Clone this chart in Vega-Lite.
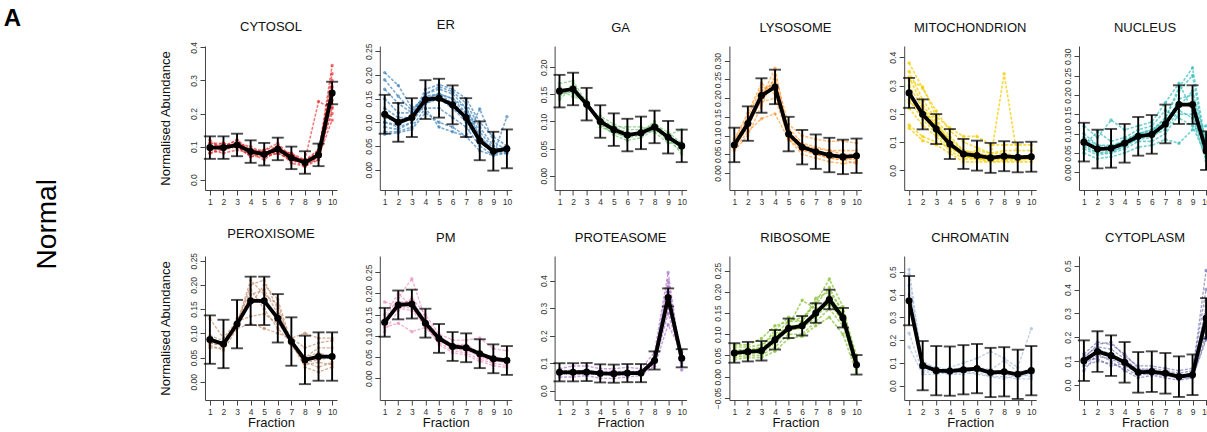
{
"$schema":"https://vega.github.io/schema/vega-lite/v6.json",
"padding":{"left":3,"top":7,"right":0,"bottom":0},
"background":"white",
"title":{"text":"A","orient":"left","angle":0,"anchor":"end","align":"right","baseline":"top","fontSize":24,"fontWeight":"bold","font":"Liberation Sans","color":"black","offset":-5,"dy":-12},
"config":{
 "view":{"stroke":null},
 "font":"Liberation Sans",
 "title":{"fontSize":13,"fontWeight":"normal","font":"Liberation Sans","color":"#111","offset":11},
 "axis":{"grid":false,"domainColor":"#444","tickColor":"#444","labelColor":"#333","labelFont":"Liberation Sans","labelFontSize":8.5,"tickSize":5,"domainWidth":1,"tickWidth":1,"titleFont":"Liberation Sans","titleFontWeight":"normal","titleFontSize":13,"titleColor":"#111","labelOverlap":false,"labelFlush":false,"labelBound":false},
 "axisY":{"labelAngle":270,"labelAlign":"center","labelBaseline":"bottom","labelPadding":1.5,"titlePadding":17},
 "axisX":{"labelPadding":2,"titlePadding":1}
},
"datasets":{
"prof":[
{"o":"CYT","p":1,"f":1,"v":0.09},{"o":"CYT","p":1,"f":2,"v":0.10},{"o":"CYT","p":1,"f":3,"v":0.11},{"o":"CYT","p":1,"f":4,"v":0.08},{"o":"CYT","p":1,"f":5,"v":0.07},{"o":"CYT","p":1,"f":6,"v":0.09},{"o":"CYT","p":1,"f":7,"v":0.06},{"o":"CYT","p":1,"f":8,"v":0.05},{"o":"CYT","p":1,"f":9,"v":0.07},{"o":"CYT","p":1,"f":10,"v":0.26},
{"o":"CYT","p":2,"f":1,"v":0.11},{"o":"CYT","p":2,"f":2,"v":0.10},{"o":"CYT","p":2,"f":3,"v":0.12},{"o":"CYT","p":2,"f":4,"v":0.09},{"o":"CYT","p":2,"f":5,"v":0.08},{"o":"CYT","p":2,"f":6,"v":0.10},{"o":"CYT","p":2,"f":7,"v":0.07},{"o":"CYT","p":2,"f":8,"v":0.05},{"o":"CYT","p":2,"f":9,"v":0.08},{"o":"CYT","p":2,"f":10,"v":0.30},
{"o":"CYT","p":3,"f":1,"v":0.08},{"o":"CYT","p":3,"f":2,"v":0.09},{"o":"CYT","p":3,"f":3,"v":0.10},{"o":"CYT","p":3,"f":4,"v":0.07},{"o":"CYT","p":3,"f":5,"v":0.07},{"o":"CYT","p":3,"f":6,"v":0.08},{"o":"CYT","p":3,"f":7,"v":0.06},{"o":"CYT","p":3,"f":8,"v":0.04},{"o":"CYT","p":3,"f":9,"v":0.06},{"o":"CYT","p":3,"f":10,"v":0.22},
{"o":"CYT","p":4,"f":1,"v":0.10},{"o":"CYT","p":4,"f":2,"v":0.11},{"o":"CYT","p":4,"f":3,"v":0.10},{"o":"CYT","p":4,"f":4,"v":0.09},{"o":"CYT","p":4,"f":5,"v":0.09},{"o":"CYT","p":4,"f":6,"v":0.10},{"o":"CYT","p":4,"f":7,"v":0.07},{"o":"CYT","p":4,"f":8,"v":0.06},{"o":"CYT","p":4,"f":9,"v":0.08},{"o":"CYT","p":4,"f":10,"v":0.345},
{"o":"CYT","p":5,"f":1,"v":0.12},{"o":"CYT","p":5,"f":2,"v":0.09},{"o":"CYT","p":5,"f":3,"v":0.11},{"o":"CYT","p":5,"f":4,"v":0.10},{"o":"CYT","p":5,"f":5,"v":0.08},{"o":"CYT","p":5,"f":6,"v":0.09},{"o":"CYT","p":5,"f":7,"v":0.08},{"o":"CYT","p":5,"f":8,"v":0.06},{"o":"CYT","p":5,"f":9,"v":0.09},{"o":"CYT","p":5,"f":10,"v":0.28},
{"o":"CYT","p":6,"f":1,"v":0.09},{"o":"CYT","p":6,"f":2,"v":0.08},{"o":"CYT","p":6,"f":3,"v":0.09},{"o":"CYT","p":6,"f":4,"v":0.08},{"o":"CYT","p":6,"f":5,"v":0.06},{"o":"CYT","p":6,"f":6,"v":0.09},{"o":"CYT","p":6,"f":7,"v":0.05},{"o":"CYT","p":6,"f":8,"v":0.04},{"o":"CYT","p":6,"f":9,"v":0.07},{"o":"CYT","p":6,"f":10,"v":0.18},
{"o":"CYT","p":7,"f":1,"v":0.10},{"o":"CYT","p":7,"f":2,"v":0.10},{"o":"CYT","p":7,"f":3,"v":0.12},{"o":"CYT","p":7,"f":4,"v":0.08},{"o":"CYT","p":7,"f":5,"v":0.09},{"o":"CYT","p":7,"f":6,"v":0.11},{"o":"CYT","p":7,"f":7,"v":0.07},{"o":"CYT","p":7,"f":8,"v":0.05},{"o":"CYT","p":7,"f":9,"v":0.08},{"o":"CYT","p":7,"f":10,"v":0.32},
{"o":"CYT","p":8,"f":1,"v":0.08},{"o":"CYT","p":8,"f":2,"v":0.10},{"o":"CYT","p":8,"f":3,"v":0.10},{"o":"CYT","p":8,"f":4,"v":0.09},{"o":"CYT","p":8,"f":5,"v":0.07},{"o":"CYT","p":8,"f":6,"v":0.08},{"o":"CYT","p":8,"f":7,"v":0.06},{"o":"CYT","p":8,"f":8,"v":0.05},{"o":"CYT","p":8,"f":9,"v":0.06},{"o":"CYT","p":8,"f":10,"v":0.24},
{"o":"CYT","p":9,"f":1,"v":0.10},{"o":"CYT","p":9,"f":2,"v":0.09},{"o":"CYT","p":9,"f":3,"v":0.11},{"o":"CYT","p":9,"f":4,"v":0.09},{"o":"CYT","p":9,"f":5,"v":0.08},{"o":"CYT","p":9,"f":6,"v":0.10},{"o":"CYT","p":9,"f":7,"v":0.07},{"o":"CYT","p":9,"f":8,"v":0.06},{"o":"CYT","p":9,"f":9,"v":0.236},{"o":"CYT","p":9,"f":10,"v":0.215},
{"o":"CYT","p":10,"f":1,"v":0.11},{"o":"CYT","p":10,"f":2,"v":0.11},{"o":"CYT","p":10,"f":3,"v":0.10},{"o":"CYT","p":10,"f":4,"v":0.07},{"o":"CYT","p":10,"f":5,"v":0.08},{"o":"CYT","p":10,"f":6,"v":0.09},{"o":"CYT","p":10,"f":7,"v":0.08},{"o":"CYT","p":10,"f":8,"v":0.05},{"o":"CYT","p":10,"f":9,"v":0.09},{"o":"CYT","p":10,"f":10,"v":0.20},
{"o":"ER","p":1,"f":1,"v":0.205},{"o":"ER","p":1,"f":2,"v":0.178},{"o":"ER","p":1,"f":3,"v":0.13},{"o":"ER","p":1,"f":4,"v":0.15},{"o":"ER","p":1,"f":5,"v":0.15},{"o":"ER","p":1,"f":6,"v":0.13},{"o":"ER","p":1,"f":7,"v":0.10},{"o":"ER","p":1,"f":8,"v":0.06},{"o":"ER","p":1,"f":9,"v":0.04},{"o":"ER","p":1,"f":10,"v":0.04},
{"o":"ER","p":2,"f":1,"v":0.19},{"o":"ER","p":2,"f":2,"v":0.155},{"o":"ER","p":2,"f":3,"v":0.125},{"o":"ER","p":2,"f":4,"v":0.155},{"o":"ER","p":2,"f":5,"v":0.16},{"o":"ER","p":2,"f":6,"v":0.14},{"o":"ER","p":2,"f":7,"v":0.11},{"o":"ER","p":2,"f":8,"v":0.06},{"o":"ER","p":2,"f":9,"v":0.035},{"o":"ER","p":2,"f":10,"v":0.035},
{"o":"ER","p":3,"f":1,"v":0.15},{"o":"ER","p":3,"f":2,"v":0.12},{"o":"ER","p":3,"f":3,"v":0.12},{"o":"ER","p":3,"f":4,"v":0.16},{"o":"ER","p":3,"f":5,"v":0.17},{"o":"ER","p":3,"f":6,"v":0.16},{"o":"ER","p":3,"f":7,"v":0.13},{"o":"ER","p":3,"f":8,"v":0.07},{"o":"ER","p":3,"f":9,"v":0.04},{"o":"ER","p":3,"f":10,"v":0.04},
{"o":"ER","p":4,"f":1,"v":0.13},{"o":"ER","p":4,"f":2,"v":0.11},{"o":"ER","p":4,"f":3,"v":0.11},{"o":"ER","p":4,"f":4,"v":0.15},{"o":"ER","p":4,"f":5,"v":0.16},{"o":"ER","p":4,"f":6,"v":0.15},{"o":"ER","p":4,"f":7,"v":0.12},{"o":"ER","p":4,"f":8,"v":0.065},{"o":"ER","p":4,"f":9,"v":0.035},{"o":"ER","p":4,"f":10,"v":0.04},
{"o":"ER","p":5,"f":1,"v":0.12},{"o":"ER","p":5,"f":2,"v":0.10},{"o":"ER","p":5,"f":3,"v":0.11},{"o":"ER","p":5,"f":4,"v":0.14},{"o":"ER","p":5,"f":5,"v":0.15},{"o":"ER","p":5,"f":6,"v":0.14},{"o":"ER","p":5,"f":7,"v":0.11},{"o":"ER","p":5,"f":8,"v":0.06},{"o":"ER","p":5,"f":9,"v":0.04},{"o":"ER","p":5,"f":10,"v":0.045},
{"o":"ER","p":6,"f":1,"v":0.10},{"o":"ER","p":6,"f":2,"v":0.09},{"o":"ER","p":6,"f":3,"v":0.10},{"o":"ER","p":6,"f":4,"v":0.14},{"o":"ER","p":6,"f":5,"v":0.15},{"o":"ER","p":6,"f":6,"v":0.14},{"o":"ER","p":6,"f":7,"v":0.12},{"o":"ER","p":6,"f":8,"v":0.07},{"o":"ER","p":6,"f":9,"v":0.04},{"o":"ER","p":6,"f":10,"v":0.05},
{"o":"ER","p":7,"f":1,"v":0.09},{"o":"ER","p":7,"f":2,"v":0.085},{"o":"ER","p":7,"f":3,"v":0.10},{"o":"ER","p":7,"f":4,"v":0.15},{"o":"ER","p":7,"f":5,"v":0.16},{"o":"ER","p":7,"f":6,"v":0.15},{"o":"ER","p":7,"f":7,"v":0.13},{"o":"ER","p":7,"f":8,"v":0.08},{"o":"ER","p":7,"f":9,"v":0.045},{"o":"ER","p":7,"f":10,"v":0.04},
{"o":"ER","p":8,"f":1,"v":0.11},{"o":"ER","p":8,"f":2,"v":0.10},{"o":"ER","p":8,"f":3,"v":0.11},{"o":"ER","p":8,"f":4,"v":0.16},{"o":"ER","p":8,"f":5,"v":0.175},{"o":"ER","p":8,"f":6,"v":0.165},{"o":"ER","p":8,"f":7,"v":0.14},{"o":"ER","p":8,"f":8,"v":0.09},{"o":"ER","p":8,"f":9,"v":0.05},{"o":"ER","p":8,"f":10,"v":0.035},
{"o":"ER","p":9,"f":1,"v":0.08},{"o":"ER","p":9,"f":2,"v":0.08},{"o":"ER","p":9,"f":3,"v":0.09},{"o":"ER","p":9,"f":4,"v":0.13},{"o":"ER","p":9,"f":5,"v":0.13},{"o":"ER","p":9,"f":6,"v":0.11},{"o":"ER","p":9,"f":7,"v":0.09},{"o":"ER","p":9,"f":8,"v":0.05},{"o":"ER","p":9,"f":9,"v":0.03},{"o":"ER","p":9,"f":10,"v":0.035},
{"o":"ER","p":10,"f":1,"v":0.075},{"o":"ER","p":10,"f":2,"v":0.078},{"o":"ER","p":10,"f":3,"v":0.085},{"o":"ER","p":10,"f":4,"v":0.12},{"o":"ER","p":10,"f":5,"v":0.10},{"o":"ER","p":10,"f":6,"v":0.09},{"o":"ER","p":10,"f":7,"v":0.07},{"o":"ER","p":10,"f":8,"v":0.04},{"o":"ER","p":10,"f":9,"v":0.03},{"o":"ER","p":10,"f":10,"v":0.112},
{"o":"ER","p":11,"f":1,"v":0.17},{"o":"ER","p":11,"f":2,"v":0.14},{"o":"ER","p":11,"f":3,"v":0.12},{"o":"ER","p":11,"f":4,"v":0.13},{"o":"ER","p":11,"f":5,"v":0.09},{"o":"ER","p":11,"f":6,"v":0.08},{"o":"ER","p":11,"f":7,"v":0.07},{"o":"ER","p":11,"f":8,"v":0.128},{"o":"ER","p":11,"f":9,"v":0.06},{"o":"ER","p":11,"f":10,"v":0.04},
{"o":"ER","p":12,"f":1,"v":0.10},{"o":"ER","p":12,"f":2,"v":0.095},{"o":"ER","p":12,"f":3,"v":0.11},{"o":"ER","p":12,"f":4,"v":0.17},{"o":"ER","p":12,"f":5,"v":0.18},{"o":"ER","p":12,"f":6,"v":0.17},{"o":"ER","p":12,"f":7,"v":0.15},{"o":"ER","p":12,"f":8,"v":0.10},{"o":"ER","p":12,"f":9,"v":0.07},{"o":"ER","p":12,"f":10,"v":0.05},
{"o":"GA","p":1,"f":1,"v":0.17},{"o":"GA","p":1,"f":2,"v":0.175},{"o":"GA","p":1,"f":3,"v":0.135},{"o":"GA","p":1,"f":4,"v":0.10},{"o":"GA","p":1,"f":5,"v":0.09},{"o":"GA","p":1,"f":6,"v":0.08},{"o":"GA","p":1,"f":7,"v":0.075},{"o":"GA","p":1,"f":8,"v":0.09},{"o":"GA","p":1,"f":9,"v":0.07},{"o":"GA","p":1,"f":10,"v":0.05},
{"o":"GA","p":2,"f":1,"v":0.15},{"o":"GA","p":2,"f":2,"v":0.155},{"o":"GA","p":2,"f":3,"v":0.13},{"o":"GA","p":2,"f":4,"v":0.095},{"o":"GA","p":2,"f":5,"v":0.08},{"o":"GA","p":2,"f":6,"v":0.07},{"o":"GA","p":2,"f":7,"v":0.075},{"o":"GA","p":2,"f":8,"v":0.085},{"o":"GA","p":2,"f":9,"v":0.065},{"o":"GA","p":2,"f":10,"v":0.045},
{"o":"GA","p":3,"f":1,"v":0.14},{"o":"GA","p":3,"f":2,"v":0.165},{"o":"GA","p":3,"f":3,"v":0.125},{"o":"GA","p":3,"f":4,"v":0.11},{"o":"GA","p":3,"f":5,"v":0.095},{"o":"GA","p":3,"f":6,"v":0.085},{"o":"GA","p":3,"f":7,"v":0.085},{"o":"GA","p":3,"f":8,"v":0.095},{"o":"GA","p":3,"f":9,"v":0.08},{"o":"GA","p":3,"f":10,"v":0.06},
{"o":"GA","p":4,"f":1,"v":0.16},{"o":"GA","p":4,"f":2,"v":0.145},{"o":"GA","p":4,"f":3,"v":0.14},{"o":"GA","p":4,"f":4,"v":0.09},{"o":"GA","p":4,"f":5,"v":0.08},{"o":"GA","p":4,"f":6,"v":0.07},{"o":"GA","p":4,"f":7,"v":0.08},{"o":"GA","p":4,"f":8,"v":0.09},{"o":"GA","p":4,"f":9,"v":0.075},{"o":"GA","p":4,"f":10,"v":0.085},
{"o":"GA","p":5,"f":1,"v":0.155},{"o":"GA","p":5,"f":2,"v":0.16},{"o":"GA","p":5,"f":3,"v":0.13},{"o":"GA","p":5,"f":4,"v":0.10},{"o":"GA","p":5,"f":5,"v":0.085},{"o":"GA","p":5,"f":6,"v":0.075},{"o":"GA","p":5,"f":7,"v":0.08},{"o":"GA","p":5,"f":8,"v":0.10},{"o":"GA","p":5,"f":9,"v":0.07},{"o":"GA","p":5,"f":10,"v":0.04},
{"o":"GA","p":6,"f":1,"v":0.145},{"o":"GA","p":6,"f":2,"v":0.17},{"o":"GA","p":6,"f":3,"v":0.128},{"o":"GA","p":6,"f":4,"v":0.105},{"o":"GA","p":6,"f":5,"v":0.09},{"o":"GA","p":6,"f":6,"v":0.09},{"o":"GA","p":6,"f":7,"v":0.09},{"o":"GA","p":6,"f":8,"v":0.08},{"o":"GA","p":6,"f":9,"v":0.06},{"o":"GA","p":6,"f":10,"v":0.06},
{"o":"GA","p":7,"f":1,"v":0.165},{"o":"GA","p":7,"f":2,"v":0.15},{"o":"GA","p":7,"f":3,"v":0.135},{"o":"GA","p":7,"f":4,"v":0.095},{"o":"GA","p":7,"f":5,"v":0.075},{"o":"GA","p":7,"f":6,"v":0.065},{"o":"GA","p":7,"f":7,"v":0.07},{"o":"GA","p":7,"f":8,"v":0.085},{"o":"GA","p":7,"f":9,"v":0.075},{"o":"GA","p":7,"f":10,"v":0.05},
{"o":"LYS","p":1,"f":1,"v":0.07},{"o":"LYS","p":1,"f":2,"v":0.12},{"o":"LYS","p":1,"f":3,"v":0.20},{"o":"LYS","p":1,"f":4,"v":0.28},{"o":"LYS","p":1,"f":5,"v":0.10},{"o":"LYS","p":1,"f":6,"v":0.07},{"o":"LYS","p":1,"f":7,"v":0.05},{"o":"LYS","p":1,"f":8,"v":0.04},{"o":"LYS","p":1,"f":9,"v":0.035},{"o":"LYS","p":1,"f":10,"v":0.04},
{"o":"LYS","p":2,"f":1,"v":0.08},{"o":"LYS","p":2,"f":2,"v":0.14},{"o":"LYS","p":2,"f":3,"v":0.22},{"o":"LYS","p":2,"f":4,"v":0.24},{"o":"LYS","p":2,"f":5,"v":0.11},{"o":"LYS","p":2,"f":6,"v":0.07},{"o":"LYS","p":2,"f":7,"v":0.06},{"o":"LYS","p":2,"f":8,"v":0.05},{"o":"LYS","p":2,"f":9,"v":0.045},{"o":"LYS","p":2,"f":10,"v":0.05},
{"o":"LYS","p":3,"f":1,"v":0.065},{"o":"LYS","p":3,"f":2,"v":0.11},{"o":"LYS","p":3,"f":3,"v":0.145},{"o":"LYS","p":3,"f":4,"v":0.158},{"o":"LYS","p":3,"f":5,"v":0.09},{"o":"LYS","p":3,"f":6,"v":0.06},{"o":"LYS","p":3,"f":7,"v":0.05},{"o":"LYS","p":3,"f":8,"v":0.045},{"o":"LYS","p":3,"f":9,"v":0.04},{"o":"LYS","p":3,"f":10,"v":0.035},
{"o":"LYS","p":4,"f":1,"v":0.09},{"o":"LYS","p":4,"f":2,"v":0.16},{"o":"LYS","p":4,"f":3,"v":0.24},{"o":"LYS","p":4,"f":4,"v":0.21},{"o":"LYS","p":4,"f":5,"v":0.12},{"o":"LYS","p":4,"f":6,"v":0.08},{"o":"LYS","p":4,"f":7,"v":0.07},{"o":"LYS","p":4,"f":8,"v":0.06},{"o":"LYS","p":4,"f":9,"v":0.05},{"o":"LYS","p":4,"f":10,"v":0.05},
{"o":"LYS","p":5,"f":1,"v":0.075},{"o":"LYS","p":5,"f":2,"v":0.13},{"o":"LYS","p":5,"f":3,"v":0.21},{"o":"LYS","p":5,"f":4,"v":0.25},{"o":"LYS","p":5,"f":5,"v":0.10},{"o":"LYS","p":5,"f":6,"v":0.065},{"o":"LYS","p":5,"f":7,"v":0.055},{"o":"LYS","p":5,"f":8,"v":0.045},{"o":"LYS","p":5,"f":9,"v":0.04},{"o":"LYS","p":5,"f":10,"v":0.045},
{"o":"LYS","p":6,"f":1,"v":0.06},{"o":"LYS","p":6,"f":2,"v":0.10},{"o":"LYS","p":6,"f":3,"v":0.18},{"o":"LYS","p":6,"f":4,"v":0.26},{"o":"LYS","p":6,"f":5,"v":0.13},{"o":"LYS","p":6,"f":6,"v":0.10},{"o":"LYS","p":6,"f":7,"v":0.09},{"o":"LYS","p":6,"f":8,"v":0.085},{"o":"LYS","p":6,"f":9,"v":0.085},{"o":"LYS","p":6,"f":10,"v":0.08},
{"o":"LYS","p":7,"f":1,"v":0.085},{"o":"LYS","p":7,"f":2,"v":0.15},{"o":"LYS","p":7,"f":3,"v":0.23},{"o":"LYS","p":7,"f":4,"v":0.22},{"o":"LYS","p":7,"f":5,"v":0.09},{"o":"LYS","p":7,"f":6,"v":0.05},{"o":"LYS","p":7,"f":7,"v":0.04},{"o":"LYS","p":7,"f":8,"v":0.03},{"o":"LYS","p":7,"f":9,"v":0.025},{"o":"LYS","p":7,"f":10,"v":0.03},
{"o":"LYS","p":8,"f":1,"v":0.07},{"o":"LYS","p":8,"f":2,"v":0.13},{"o":"LYS","p":8,"f":3,"v":0.20},{"o":"LYS","p":8,"f":4,"v":0.23},{"o":"LYS","p":8,"f":5,"v":0.11},{"o":"LYS","p":8,"f":6,"v":0.075},{"o":"LYS","p":8,"f":7,"v":0.065},{"o":"LYS","p":8,"f":8,"v":0.06},{"o":"LYS","p":8,"f":9,"v":0.06},{"o":"LYS","p":8,"f":10,"v":0.06},
{"o":"LYS","p":9,"f":1,"v":0.08},{"o":"LYS","p":9,"f":2,"v":0.14},{"o":"LYS","p":9,"f":3,"v":0.19},{"o":"LYS","p":9,"f":4,"v":0.20},{"o":"LYS","p":9,"f":5,"v":0.095},{"o":"LYS","p":9,"f":6,"v":0.065},{"o":"LYS","p":9,"f":7,"v":0.05},{"o":"LYS","p":9,"f":8,"v":0.04},{"o":"LYS","p":9,"f":9,"v":0.035},{"o":"LYS","p":9,"f":10,"v":0.025},
{"o":"MIT","p":1,"f":1,"v":0.38},{"o":"MIT","p":1,"f":2,"v":0.29},{"o":"MIT","p":1,"f":3,"v":0.21},{"o":"MIT","p":1,"f":4,"v":0.14},{"o":"MIT","p":1,"f":5,"v":0.10},{"o":"MIT","p":1,"f":6,"v":0.08},{"o":"MIT","p":1,"f":7,"v":0.06},{"o":"MIT","p":1,"f":8,"v":0.06},{"o":"MIT","p":1,"f":9,"v":0.05},{"o":"MIT","p":1,"f":10,"v":0.05},
{"o":"MIT","p":2,"f":1,"v":0.35},{"o":"MIT","p":2,"f":2,"v":0.25},{"o":"MIT","p":2,"f":3,"v":0.18},{"o":"MIT","p":2,"f":4,"v":0.12},{"o":"MIT","p":2,"f":5,"v":0.07},{"o":"MIT","p":2,"f":6,"v":0.06},{"o":"MIT","p":2,"f":7,"v":0.05},{"o":"MIT","p":2,"f":8,"v":0.05},{"o":"MIT","p":2,"f":9,"v":0.05},{"o":"MIT","p":2,"f":10,"v":0.05},
{"o":"MIT","p":3,"f":1,"v":0.30},{"o":"MIT","p":3,"f":2,"v":0.22},{"o":"MIT","p":3,"f":3,"v":0.16},{"o":"MIT","p":3,"f":4,"v":0.10},{"o":"MIT","p":3,"f":5,"v":0.06},{"o":"MIT","p":3,"f":6,"v":0.05},{"o":"MIT","p":3,"f":7,"v":0.04},{"o":"MIT","p":3,"f":8,"v":0.05},{"o":"MIT","p":3,"f":9,"v":0.045},{"o":"MIT","p":3,"f":10,"v":0.05},
{"o":"MIT","p":4,"f":1,"v":0.27},{"o":"MIT","p":4,"f":2,"v":0.20},{"o":"MIT","p":4,"f":3,"v":0.15},{"o":"MIT","p":4,"f":4,"v":0.09},{"o":"MIT","p":4,"f":5,"v":0.05},{"o":"MIT","p":4,"f":6,"v":0.05},{"o":"MIT","p":4,"f":7,"v":0.04},{"o":"MIT","p":4,"f":8,"v":0.04},{"o":"MIT","p":4,"f":9,"v":0.04},{"o":"MIT","p":4,"f":10,"v":0.04},
{"o":"MIT","p":5,"f":1,"v":0.25},{"o":"MIT","p":5,"f":2,"v":0.18},{"o":"MIT","p":5,"f":3,"v":0.13},{"o":"MIT","p":5,"f":4,"v":0.08},{"o":"MIT","p":5,"f":5,"v":0.05},{"o":"MIT","p":5,"f":6,"v":0.04},{"o":"MIT","p":5,"f":7,"v":0.035},{"o":"MIT","p":5,"f":8,"v":0.04},{"o":"MIT","p":5,"f":9,"v":0.04},{"o":"MIT","p":5,"f":10,"v":0.045},
{"o":"MIT","p":6,"f":1,"v":0.22},{"o":"MIT","p":6,"f":2,"v":0.16},{"o":"MIT","p":6,"f":3,"v":0.12},{"o":"MIT","p":6,"f":4,"v":0.07},{"o":"MIT","p":6,"f":5,"v":0.04},{"o":"MIT","p":6,"f":6,"v":0.04},{"o":"MIT","p":6,"f":7,"v":0.03},{"o":"MIT","p":6,"f":8,"v":0.035},{"o":"MIT","p":6,"f":9,"v":0.035},{"o":"MIT","p":6,"f":10,"v":0.04},
{"o":"MIT","p":7,"f":1,"v":0.15},{"o":"MIT","p":7,"f":2,"v":0.105},{"o":"MIT","p":7,"f":3,"v":0.09},{"o":"MIT","p":7,"f":4,"v":0.06},{"o":"MIT","p":7,"f":5,"v":0.03},{"o":"MIT","p":7,"f":6,"v":0.03},{"o":"MIT","p":7,"f":7,"v":0.03},{"o":"MIT","p":7,"f":8,"v":0.03},{"o":"MIT","p":7,"f":9,"v":0.03},{"o":"MIT","p":7,"f":10,"v":0.03},
{"o":"MIT","p":8,"f":1,"v":0.16},{"o":"MIT","p":8,"f":2,"v":0.12},{"o":"MIT","p":8,"f":3,"v":0.10},{"o":"MIT","p":8,"f":4,"v":0.08},{"o":"MIT","p":8,"f":5,"v":0.06},{"o":"MIT","p":8,"f":6,"v":0.07},{"o":"MIT","p":8,"f":7,"v":0.06},{"o":"MIT","p":8,"f":8,"v":0.07},{"o":"MIT","p":8,"f":9,"v":0.07},{"o":"MIT","p":8,"f":10,"v":0.07},
{"o":"MIT","p":9,"f":1,"v":0.32},{"o":"MIT","p":9,"f":2,"v":0.295},{"o":"MIT","p":9,"f":3,"v":0.19},{"o":"MIT","p":9,"f":4,"v":0.15},{"o":"MIT","p":9,"f":5,"v":0.12},{"o":"MIT","p":9,"f":6,"v":0.12},{"o":"MIT","p":9,"f":7,"v":0.09},{"o":"MIT","p":9,"f":8,"v":0.09},{"o":"MIT","p":9,"f":9,"v":0.09},{"o":"MIT","p":9,"f":10,"v":0.09},
{"o":"MIT","p":10,"f":1,"v":0.28},{"o":"MIT","p":10,"f":2,"v":0.19},{"o":"MIT","p":10,"f":3,"v":0.14},{"o":"MIT","p":10,"f":4,"v":0.09},{"o":"MIT","p":10,"f":5,"v":0.05},{"o":"MIT","p":10,"f":6,"v":0.04},{"o":"MIT","p":10,"f":7,"v":0.04},{"o":"MIT","p":10,"f":8,"v":0.342},{"o":"MIT","p":10,"f":9,"v":0.04},{"o":"MIT","p":10,"f":10,"v":0.05},
{"o":"MIT","p":11,"f":1,"v":0.24},{"o":"MIT","p":11,"f":2,"v":0.21},{"o":"MIT","p":11,"f":3,"v":0.16},{"o":"MIT","p":11,"f":4,"v":0.11},{"o":"MIT","p":11,"f":5,"v":0.07},{"o":"MIT","p":11,"f":6,"v":0.06},{"o":"MIT","p":11,"f":7,"v":0.05},{"o":"MIT","p":11,"f":8,"v":0.05},{"o":"MIT","p":11,"f":9,"v":0.05},{"o":"MIT","p":11,"f":10,"v":0.05},
{"o":"MIT","p":12,"f":1,"v":0.33},{"o":"MIT","p":12,"f":2,"v":0.23},{"o":"MIT","p":12,"f":3,"v":0.17},{"o":"MIT","p":12,"f":4,"v":0.10},{"o":"MIT","p":12,"f":5,"v":0.055},{"o":"MIT","p":12,"f":6,"v":0.045},{"o":"MIT","p":12,"f":7,"v":0.04},{"o":"MIT","p":12,"f":8,"v":0.045},{"o":"MIT","p":12,"f":9,"v":0.04},{"o":"MIT","p":12,"f":10,"v":0.04},
{"o":"NUC","p":1,"f":1,"v":0.08},{"o":"NUC","p":1,"f":2,"v":0.06},{"o":"NUC","p":1,"f":3,"v":0.06},{"o":"NUC","p":1,"f":4,"v":0.07},{"o":"NUC","p":1,"f":5,"v":0.09},{"o":"NUC","p":1,"f":6,"v":0.10},{"o":"NUC","p":1,"f":7,"v":0.13},{"o":"NUC","p":1,"f":8,"v":0.18},{"o":"NUC","p":1,"f":9,"v":0.17},{"o":"NUC","p":1,"f":10,"v":0.05},
{"o":"NUC","p":2,"f":1,"v":0.07},{"o":"NUC","p":2,"f":2,"v":0.05},{"o":"NUC","p":2,"f":3,"v":0.05},{"o":"NUC","p":2,"f":4,"v":0.07},{"o":"NUC","p":2,"f":5,"v":0.085},{"o":"NUC","p":2,"f":6,"v":0.09},{"o":"NUC","p":2,"f":7,"v":0.12},{"o":"NUC","p":2,"f":8,"v":0.19},{"o":"NUC","p":2,"f":9,"v":0.20},{"o":"NUC","p":2,"f":10,"v":0.06},
{"o":"NUC","p":3,"f":1,"v":0.10},{"o":"NUC","p":3,"f":2,"v":0.07},{"o":"NUC","p":3,"f":3,"v":0.07},{"o":"NUC","p":3,"f":4,"v":0.08},{"o":"NUC","p":3,"f":5,"v":0.10},{"o":"NUC","p":3,"f":6,"v":0.11},{"o":"NUC","p":3,"f":7,"v":0.14},{"o":"NUC","p":3,"f":8,"v":0.22},{"o":"NUC","p":3,"f":9,"v":0.27},{"o":"NUC","p":3,"f":10,"v":0.07},
{"o":"NUC","p":4,"f":1,"v":0.06},{"o":"NUC","p":4,"f":2,"v":0.045},{"o":"NUC","p":4,"f":3,"v":0.05},{"o":"NUC","p":4,"f":4,"v":0.06},{"o":"NUC","p":4,"f":5,"v":0.08},{"o":"NUC","p":4,"f":6,"v":0.08},{"o":"NUC","p":4,"f":7,"v":0.10},{"o":"NUC","p":4,"f":8,"v":0.15},{"o":"NUC","p":4,"f":9,"v":0.15},{"o":"NUC","p":4,"f":10,"v":0.04},
{"o":"NUC","p":5,"f":1,"v":0.12},{"o":"NUC","p":5,"f":2,"v":0.09},{"o":"NUC","p":5,"f":3,"v":0.135},{"o":"NUC","p":5,"f":4,"v":0.11},{"o":"NUC","p":5,"f":5,"v":0.12},{"o":"NUC","p":5,"f":6,"v":0.13},{"o":"NUC","p":5,"f":7,"v":0.18},{"o":"NUC","p":5,"f":8,"v":0.23},{"o":"NUC","p":5,"f":9,"v":0.16},{"o":"NUC","p":5,"f":10,"v":0.05},
{"o":"NUC","p":6,"f":1,"v":0.09},{"o":"NUC","p":6,"f":2,"v":0.07},{"o":"NUC","p":6,"f":3,"v":0.065},{"o":"NUC","p":6,"f":4,"v":0.085},{"o":"NUC","p":6,"f":5,"v":0.10},{"o":"NUC","p":6,"f":6,"v":0.11},{"o":"NUC","p":6,"f":7,"v":0.13},{"o":"NUC","p":6,"f":8,"v":0.17},{"o":"NUC","p":6,"f":9,"v":0.21},{"o":"NUC","p":6,"f":10,"v":0.08},
{"o":"NUC","p":7,"f":1,"v":0.05},{"o":"NUC","p":7,"f":2,"v":0.035},{"o":"NUC","p":7,"f":3,"v":0.04},{"o":"NUC","p":7,"f":4,"v":0.05},{"o":"NUC","p":7,"f":5,"v":0.065},{"o":"NUC","p":7,"f":6,"v":0.07},{"o":"NUC","p":7,"f":7,"v":0.085},{"o":"NUC","p":7,"f":8,"v":0.075},{"o":"NUC","p":7,"f":9,"v":0.11},{"o":"NUC","p":7,"f":10,"v":0.12},
{"o":"NUC","p":8,"f":1,"v":0.085},{"o":"NUC","p":8,"f":2,"v":0.065},{"o":"NUC","p":8,"f":3,"v":0.06},{"o":"NUC","p":8,"f":4,"v":0.08},{"o":"NUC","p":8,"f":5,"v":0.10},{"o":"NUC","p":8,"f":6,"v":0.105},{"o":"NUC","p":8,"f":7,"v":0.14},{"o":"NUC","p":8,"f":8,"v":0.21},{"o":"NUC","p":8,"f":9,"v":0.25},{"o":"NUC","p":8,"f":10,"v":0.06},
{"o":"NUC","p":9,"f":1,"v":0.065},{"o":"NUC","p":9,"f":2,"v":0.05},{"o":"NUC","p":9,"f":3,"v":0.055},{"o":"NUC","p":9,"f":4,"v":0.065},{"o":"NUC","p":9,"f":5,"v":0.09},{"o":"NUC","p":9,"f":6,"v":0.095},{"o":"NUC","p":9,"f":7,"v":0.11},{"o":"NUC","p":9,"f":8,"v":0.16},{"o":"NUC","p":9,"f":9,"v":0.14},{"o":"NUC","p":9,"f":10,"v":0.03},
{"o":"NUC","p":10,"f":1,"v":0.07},{"o":"NUC","p":10,"f":2,"v":0.105},{"o":"NUC","p":10,"f":3,"v":0.08},{"o":"NUC","p":10,"f":4,"v":0.09},{"o":"NUC","p":10,"f":5,"v":0.11},{"o":"NUC","p":10,"f":6,"v":0.12},{"o":"NUC","p":10,"f":7,"v":0.16},{"o":"NUC","p":10,"f":8,"v":0.14},{"o":"NUC","p":10,"f":9,"v":0.12},{"o":"NUC","p":10,"f":10,"v":0.04},
{"o":"PER","p":1,"f":1,"v":0.08},{"o":"PER","p":1,"f":2,"v":0.075},{"o":"PER","p":1,"f":3,"v":0.12},{"o":"PER","p":1,"f":4,"v":0.20},{"o":"PER","p":1,"f":5,"v":0.21},{"o":"PER","p":1,"f":6,"v":0.15},{"o":"PER","p":1,"f":7,"v":0.08},{"o":"PER","p":1,"f":8,"v":0.04},{"o":"PER","p":1,"f":9,"v":0.03},{"o":"PER","p":1,"f":10,"v":0.04},
{"o":"PER","p":2,"f":1,"v":0.07},{"o":"PER","p":2,"f":2,"v":0.07},{"o":"PER","p":2,"f":3,"v":0.115},{"o":"PER","p":2,"f":4,"v":0.18},{"o":"PER","p":2,"f":5,"v":0.19},{"o":"PER","p":2,"f":6,"v":0.14},{"o":"PER","p":2,"f":7,"v":0.085},{"o":"PER","p":2,"f":8,"v":0.05},{"o":"PER","p":2,"f":9,"v":0.06},{"o":"PER","p":2,"f":10,"v":0.05},
{"o":"PER","p":3,"f":1,"v":0.09},{"o":"PER","p":3,"f":2,"v":0.08},{"o":"PER","p":3,"f":3,"v":0.12},{"o":"PER","p":3,"f":4,"v":0.17},{"o":"PER","p":3,"f":5,"v":0.17},{"o":"PER","p":3,"f":6,"v":0.13},{"o":"PER","p":3,"f":7,"v":0.08},{"o":"PER","p":3,"f":8,"v":0.03},{"o":"PER","p":3,"f":9,"v":0.02},{"o":"PER","p":3,"f":10,"v":0.03},
{"o":"PER","p":4,"f":1,"v":0.13},{"o":"PER","p":4,"f":2,"v":0.09},{"o":"PER","p":4,"f":3,"v":0.125},{"o":"PER","p":4,"f":4,"v":0.135},{"o":"PER","p":4,"f":5,"v":0.14},{"o":"PER","p":4,"f":6,"v":0.12},{"o":"PER","p":4,"f":7,"v":0.09},{"o":"PER","p":4,"f":8,"v":0.07},{"o":"PER","p":4,"f":9,"v":0.08},{"o":"PER","p":4,"f":10,"v":0.085},
{"o":"PER","p":5,"f":1,"v":0.075},{"o":"PER","p":5,"f":2,"v":0.065},{"o":"PER","p":5,"f":3,"v":0.11},{"o":"PER","p":5,"f":4,"v":0.12},{"o":"PER","p":5,"f":5,"v":0.11},{"o":"PER","p":5,"f":6,"v":0.10},{"o":"PER","p":5,"f":7,"v":0.09},{"o":"PER","p":5,"f":8,"v":0.10},{"o":"PER","p":5,"f":9,"v":0.09},{"o":"PER","p":5,"f":10,"v":0.09},
{"o":"PER","p":6,"f":1,"v":0.085},{"o":"PER","p":6,"f":2,"v":0.08},{"o":"PER","p":6,"f":3,"v":0.12},{"o":"PER","p":6,"f":4,"v":0.21},{"o":"PER","p":6,"f":5,"v":0.18},{"o":"PER","p":6,"f":6,"v":0.16},{"o":"PER","p":6,"f":7,"v":0.075},{"o":"PER","p":6,"f":8,"v":0.04},{"o":"PER","p":6,"f":9,"v":0.045},{"o":"PER","p":6,"f":10,"v":0.05},
{"o":"PER","p":7,"f":1,"v":0.08},{"o":"PER","p":7,"f":2,"v":0.075},{"o":"PER","p":7,"f":3,"v":0.13},{"o":"PER","p":7,"f":4,"v":0.16},{"o":"PER","p":7,"f":5,"v":0.20},{"o":"PER","p":7,"f":6,"v":0.17},{"o":"PER","p":7,"f":7,"v":0.08},{"o":"PER","p":7,"f":8,"v":0.035},{"o":"PER","p":7,"f":9,"v":0.04},{"o":"PER","p":7,"f":10,"v":0.035},
{"o":"PER","p":8,"f":1,"v":0.095},{"o":"PER","p":8,"f":2,"v":0.085},{"o":"PER","p":8,"f":3,"v":0.12},{"o":"PER","p":8,"f":4,"v":0.19},{"o":"PER","p":8,"f":5,"v":0.15},{"o":"PER","p":8,"f":6,"v":0.11},{"o":"PER","p":8,"f":7,"v":0.08},{"o":"PER","p":8,"f":8,"v":0.05},{"o":"PER","p":8,"f":9,"v":0.07},{"o":"PER","p":8,"f":10,"v":0.07},
{"o":"PM","p":1,"f":1,"v":0.18},{"o":"PM","p":1,"f":2,"v":0.17},{"o":"PM","p":1,"f":3,"v":0.165},{"o":"PM","p":1,"f":4,"v":0.13},{"o":"PM","p":1,"f":5,"v":0.09},{"o":"PM","p":1,"f":6,"v":0.07},{"o":"PM","p":1,"f":7,"v":0.07},{"o":"PM","p":1,"f":8,"v":0.05},{"o":"PM","p":1,"f":9,"v":0.04},{"o":"PM","p":1,"f":10,"v":0.04},
{"o":"PM","p":2,"f":1,"v":0.12},{"o":"PM","p":2,"f":2,"v":0.13},{"o":"PM","p":2,"f":3,"v":0.11},{"o":"PM","p":2,"f":4,"v":0.12},{"o":"PM","p":2,"f":5,"v":0.09},{"o":"PM","p":2,"f":6,"v":0.08},{"o":"PM","p":2,"f":7,"v":0.08},{"o":"PM","p":2,"f":8,"v":0.06},{"o":"PM","p":2,"f":9,"v":0.05},{"o":"PM","p":2,"f":10,"v":0.045},
{"o":"PM","p":3,"f":1,"v":0.14},{"o":"PM","p":3,"f":2,"v":0.19},{"o":"PM","p":3,"f":3,"v":0.235},{"o":"PM","p":3,"f":4,"v":0.14},{"o":"PM","p":3,"f":5,"v":0.10},{"o":"PM","p":3,"f":6,"v":0.08},{"o":"PM","p":3,"f":7,"v":0.075},{"o":"PM","p":3,"f":8,"v":0.06},{"o":"PM","p":3,"f":9,"v":0.045},{"o":"PM","p":3,"f":10,"v":0.035},
{"o":"PM","p":4,"f":1,"v":0.13},{"o":"PM","p":4,"f":2,"v":0.18},{"o":"PM","p":4,"f":3,"v":0.18},{"o":"PM","p":4,"f":4,"v":0.13},{"o":"PM","p":4,"f":5,"v":0.095},{"o":"PM","p":4,"f":6,"v":0.07},{"o":"PM","p":4,"f":7,"v":0.065},{"o":"PM","p":4,"f":8,"v":0.055},{"o":"PM","p":4,"f":9,"v":0.04},{"o":"PM","p":4,"f":10,"v":0.04},
{"o":"PM","p":5,"f":1,"v":0.11},{"o":"PM","p":5,"f":2,"v":0.16},{"o":"PM","p":5,"f":3,"v":0.19},{"o":"PM","p":5,"f":4,"v":0.15},{"o":"PM","p":5,"f":5,"v":0.105},{"o":"PM","p":5,"f":6,"v":0.09},{"o":"PM","p":5,"f":7,"v":0.09},{"o":"PM","p":5,"f":8,"v":0.095},{"o":"PM","p":5,"f":9,"v":0.07},{"o":"PM","p":5,"f":10,"v":0.065},
{"o":"PM","p":6,"f":1,"v":0.15},{"o":"PM","p":6,"f":2,"v":0.20},{"o":"PM","p":6,"f":3,"v":0.17},{"o":"PM","p":6,"f":4,"v":0.12},{"o":"PM","p":6,"f":5,"v":0.085},{"o":"PM","p":6,"f":6,"v":0.065},{"o":"PM","p":6,"f":7,"v":0.06},{"o":"PM","p":6,"f":8,"v":0.045},{"o":"PM","p":6,"f":9,"v":0.035},{"o":"PM","p":6,"f":10,"v":0.03},
{"o":"PM","p":7,"f":1,"v":0.125},{"o":"PM","p":7,"f":2,"v":0.175},{"o":"PM","p":7,"f":3,"v":0.185},{"o":"PM","p":7,"f":4,"v":0.135},{"o":"PM","p":7,"f":5,"v":0.09},{"o":"PM","p":7,"f":6,"v":0.075},{"o":"PM","p":7,"f":7,"v":0.07},{"o":"PM","p":7,"f":8,"v":0.06},{"o":"PM","p":7,"f":9,"v":0.05},{"o":"PM","p":7,"f":10,"v":0.045},
{"o":"PM","p":8,"f":1,"v":0.135},{"o":"PM","p":8,"f":2,"v":0.165},{"o":"PM","p":8,"f":3,"v":0.16},{"o":"PM","p":8,"f":4,"v":0.125},{"o":"PM","p":8,"f":5,"v":0.08},{"o":"PM","p":8,"f":6,"v":0.06},{"o":"PM","p":8,"f":7,"v":0.055},{"o":"PM","p":8,"f":8,"v":0.04},{"o":"PM","p":8,"f":9,"v":0.03},{"o":"PM","p":8,"f":10,"v":0.025},
{"o":"PRO","p":1,"f":1,"v":0.06},{"o":"PRO","p":1,"f":2,"v":0.065},{"o":"PRO","p":1,"f":3,"v":0.07},{"o":"PRO","p":1,"f":4,"v":0.06},{"o":"PRO","p":1,"f":5,"v":0.055},{"o":"PRO","p":1,"f":6,"v":0.06},{"o":"PRO","p":1,"f":7,"v":0.06},{"o":"PRO","p":1,"f":8,"v":0.10},{"o":"PRO","p":1,"f":9,"v":0.33},{"o":"PRO","p":1,"f":10,"v":0.12},
{"o":"PRO","p":2,"f":1,"v":0.07},{"o":"PRO","p":2,"f":2,"v":0.07},{"o":"PRO","p":2,"f":3,"v":0.075},{"o":"PRO","p":2,"f":4,"v":0.065},{"o":"PRO","p":2,"f":5,"v":0.065},{"o":"PRO","p":2,"f":6,"v":0.07},{"o":"PRO","p":2,"f":7,"v":0.065},{"o":"PRO","p":2,"f":8,"v":0.12},{"o":"PRO","p":2,"f":9,"v":0.38},{"o":"PRO","p":2,"f":10,"v":0.11},
{"o":"PRO","p":3,"f":1,"v":0.05},{"o":"PRO","p":3,"f":2,"v":0.05},{"o":"PRO","p":3,"f":3,"v":0.055},{"o":"PRO","p":3,"f":4,"v":0.045},{"o":"PRO","p":3,"f":5,"v":0.045},{"o":"PRO","p":3,"f":6,"v":0.05},{"o":"PRO","p":3,"f":7,"v":0.055},{"o":"PRO","p":3,"f":8,"v":0.09},{"o":"PRO","p":3,"f":9,"v":0.24},{"o":"PRO","p":3,"f":10,"v":0.14},
{"o":"PRO","p":4,"f":1,"v":0.08},{"o":"PRO","p":4,"f":2,"v":0.09},{"o":"PRO","p":4,"f":3,"v":0.09},{"o":"PRO","p":4,"f":4,"v":0.08},{"o":"PRO","p":4,"f":5,"v":0.08},{"o":"PRO","p":4,"f":6,"v":0.085},{"o":"PRO","p":4,"f":7,"v":0.08},{"o":"PRO","p":4,"f":8,"v":0.14},{"o":"PRO","p":4,"f":9,"v":0.43},{"o":"PRO","p":4,"f":10,"v":0.09},
{"o":"PRO","p":5,"f":1,"v":0.065},{"o":"PRO","p":5,"f":2,"v":0.06},{"o":"PRO","p":5,"f":3,"v":0.06},{"o":"PRO","p":5,"f":4,"v":0.06},{"o":"PRO","p":5,"f":5,"v":0.06},{"o":"PRO","p":5,"f":6,"v":0.06},{"o":"PRO","p":5,"f":7,"v":0.065},{"o":"PRO","p":5,"f":8,"v":0.11},{"o":"PRO","p":5,"f":9,"v":0.30},{"o":"PRO","p":5,"f":10,"v":0.13},
{"o":"PRO","p":6,"f":1,"v":0.07},{"o":"PRO","p":6,"f":2,"v":0.075},{"o":"PRO","p":6,"f":3,"v":0.07},{"o":"PRO","p":6,"f":4,"v":0.065},{"o":"PRO","p":6,"f":5,"v":0.065},{"o":"PRO","p":6,"f":6,"v":0.065},{"o":"PRO","p":6,"f":7,"v":0.07},{"o":"PRO","p":6,"f":8,"v":0.115},{"o":"PRO","p":6,"f":9,"v":0.36},{"o":"PRO","p":6,"f":10,"v":0.075},
{"o":"PRO","p":7,"f":1,"v":0.06},{"o":"PRO","p":7,"f":2,"v":0.065},{"o":"PRO","p":7,"f":3,"v":0.065},{"o":"PRO","p":7,"f":4,"v":0.06},{"o":"PRO","p":7,"f":5,"v":0.055},{"o":"PRO","p":7,"f":6,"v":0.06},{"o":"PRO","p":7,"f":7,"v":0.06},{"o":"PRO","p":7,"f":8,"v":0.10},{"o":"PRO","p":7,"f":9,"v":0.28},{"o":"PRO","p":7,"f":10,"v":0.12},
{"o":"PRO","p":8,"f":1,"v":0.075},{"o":"PRO","p":8,"f":2,"v":0.07},{"o":"PRO","p":8,"f":3,"v":0.07},{"o":"PRO","p":8,"f":4,"v":0.07},{"o":"PRO","p":8,"f":5,"v":0.07},{"o":"PRO","p":8,"f":6,"v":0.07},{"o":"PRO","p":8,"f":7,"v":0.07},{"o":"PRO","p":8,"f":8,"v":0.12},{"o":"PRO","p":8,"f":9,"v":0.40},{"o":"PRO","p":8,"f":10,"v":0.10},
{"o":"RIB","p":1,"f":1,"v":0.055},{"o":"RIB","p":1,"f":2,"v":0.06},{"o":"RIB","p":1,"f":3,"v":0.06},{"o":"RIB","p":1,"f":4,"v":0.09},{"o":"RIB","p":1,"f":5,"v":0.12},{"o":"RIB","p":1,"f":6,"v":0.12},{"o":"RIB","p":1,"f":7,"v":0.15},{"o":"RIB","p":1,"f":8,"v":0.19},{"o":"RIB","p":1,"f":9,"v":0.14},{"o":"RIB","p":1,"f":10,"v":0.03},
{"o":"RIB","p":2,"f":1,"v":0.05},{"o":"RIB","p":2,"f":2,"v":0.055},{"o":"RIB","p":2,"f":3,"v":0.055},{"o":"RIB","p":2,"f":4,"v":0.08},{"o":"RIB","p":2,"f":5,"v":0.11},{"o":"RIB","p":2,"f":6,"v":0.115},{"o":"RIB","p":2,"f":7,"v":0.145},{"o":"RIB","p":2,"f":8,"v":0.18},{"o":"RIB","p":2,"f":9,"v":0.13},{"o":"RIB","p":2,"f":10,"v":0.025},
{"o":"RIB","p":3,"f":1,"v":0.07},{"o":"RIB","p":3,"f":2,"v":0.07},{"o":"RIB","p":3,"f":3,"v":0.075},{"o":"RIB","p":3,"f":4,"v":0.10},{"o":"RIB","p":3,"f":5,"v":0.13},{"o":"RIB","p":3,"f":6,"v":0.14},{"o":"RIB","p":3,"f":7,"v":0.17},{"o":"RIB","p":3,"f":8,"v":0.21},{"o":"RIB","p":3,"f":9,"v":0.15},{"o":"RIB","p":3,"f":10,"v":0.04},
{"o":"RIB","p":4,"f":1,"v":0.045},{"o":"RIB","p":4,"f":2,"v":0.05},{"o":"RIB","p":4,"f":3,"v":0.05},{"o":"RIB","p":4,"f":4,"v":0.07},{"o":"RIB","p":4,"f":5,"v":0.10},{"o":"RIB","p":4,"f":6,"v":0.10},{"o":"RIB","p":4,"f":7,"v":0.13},{"o":"RIB","p":4,"f":8,"v":0.16},{"o":"RIB","p":4,"f":9,"v":0.12},{"o":"RIB","p":4,"f":10,"v":0.02},
{"o":"RIB","p":5,"f":1,"v":0.06},{"o":"RIB","p":5,"f":2,"v":0.065},{"o":"RIB","p":5,"f":3,"v":0.065},{"o":"RIB","p":5,"f":4,"v":0.095},{"o":"RIB","p":5,"f":5,"v":0.12},{"o":"RIB","p":5,"f":6,"v":0.18},{"o":"RIB","p":5,"f":7,"v":0.16},{"o":"RIB","p":5,"f":8,"v":0.17},{"o":"RIB","p":5,"f":9,"v":0.14},{"o":"RIB","p":5,"f":10,"v":0.03},
{"o":"RIB","p":6,"f":1,"v":0.065},{"o":"RIB","p":6,"f":2,"v":0.06},{"o":"RIB","p":6,"f":3,"v":0.07},{"o":"RIB","p":6,"f":4,"v":0.11},{"o":"RIB","p":6,"f":5,"v":0.14},{"o":"RIB","p":6,"f":6,"v":0.13},{"o":"RIB","p":6,"f":7,"v":0.175},{"o":"RIB","p":6,"f":8,"v":0.23},{"o":"RIB","p":6,"f":9,"v":0.165},{"o":"RIB","p":6,"f":10,"v":0.035},
{"o":"RIB","p":7,"f":1,"v":0.04},{"o":"RIB","p":7,"f":2,"v":0.045},{"o":"RIB","p":7,"f":3,"v":0.045},{"o":"RIB","p":7,"f":4,"v":0.06},{"o":"RIB","p":7,"f":5,"v":0.09},{"o":"RIB","p":7,"f":6,"v":0.095},{"o":"RIB","p":7,"f":7,"v":0.12},{"o":"RIB","p":7,"f":8,"v":0.14},{"o":"RIB","p":7,"f":9,"v":0.10},{"o":"RIB","p":7,"f":10,"v":0.01},
{"o":"RIB","p":8,"f":1,"v":0.075},{"o":"RIB","p":8,"f":2,"v":0.075},{"o":"RIB","p":8,"f":3,"v":0.09},{"o":"RIB","p":8,"f":4,"v":0.12},{"o":"RIB","p":8,"f":5,"v":0.13},{"o":"RIB","p":8,"f":6,"v":0.13},{"o":"RIB","p":8,"f":7,"v":0.185},{"o":"RIB","p":8,"f":8,"v":0.20},{"o":"RIB","p":8,"f":9,"v":0.155},{"o":"RIB","p":8,"f":10,"v":0.05},
{"o":"RIB","p":9,"f":1,"v":0.05},{"o":"RIB","p":9,"f":2,"v":0.055},{"o":"RIB","p":9,"f":3,"v":0.06},{"o":"RIB","p":9,"f":4,"v":0.085},{"o":"RIB","p":9,"f":5,"v":0.11},{"o":"RIB","p":9,"f":6,"v":0.115},{"o":"RIB","p":9,"f":7,"v":0.14},{"o":"RIB","p":9,"f":8,"v":0.175},{"o":"RIB","p":9,"f":9,"v":0.13},{"o":"RIB","p":9,"f":10,"v":0.02},
{"o":"RIB","p":10,"f":1,"v":0.06},{"o":"RIB","p":10,"f":2,"v":0.06},{"o":"RIB","p":10,"f":3,"v":0.065},{"o":"RIB","p":10,"f":4,"v":0.09},{"o":"RIB","p":10,"f":5,"v":0.115},{"o":"RIB","p":10,"f":6,"v":0.125},{"o":"RIB","p":10,"f":7,"v":0.15},{"o":"RIB","p":10,"f":8,"v":0.19},{"o":"RIB","p":10,"f":9,"v":0.145},{"o":"RIB","p":10,"f":10,"v":0.03},
{"o":"CHR","p":1,"f":1,"v":0.51},{"o":"CHR","p":1,"f":2,"v":0.09},{"o":"CHR","p":1,"f":3,"v":0.06},{"o":"CHR","p":1,"f":4,"v":0.05},{"o":"CHR","p":1,"f":5,"v":0.06},{"o":"CHR","p":1,"f":6,"v":0.07},{"o":"CHR","p":1,"f":7,"v":0.05},{"o":"CHR","p":1,"f":8,"v":0.05},{"o":"CHR","p":1,"f":9,"v":0.04},{"o":"CHR","p":1,"f":10,"v":0.05},
{"o":"CHR","p":2,"f":1,"v":0.49},{"o":"CHR","p":2,"f":2,"v":0.08},{"o":"CHR","p":2,"f":3,"v":0.07},{"o":"CHR","p":2,"f":4,"v":0.06},{"o":"CHR","p":2,"f":5,"v":0.07},{"o":"CHR","p":2,"f":6,"v":0.08},{"o":"CHR","p":2,"f":7,"v":0.06},{"o":"CHR","p":2,"f":8,"v":0.06},{"o":"CHR","p":2,"f":9,"v":0.05},{"o":"CHR","p":2,"f":10,"v":0.06},
{"o":"CHR","p":3,"f":1,"v":0.44},{"o":"CHR","p":3,"f":2,"v":0.10},{"o":"CHR","p":3,"f":3,"v":0.08},{"o":"CHR","p":3,"f":4,"v":0.07},{"o":"CHR","p":3,"f":5,"v":0.06},{"o":"CHR","p":3,"f":6,"v":0.05},{"o":"CHR","p":3,"f":7,"v":0.04},{"o":"CHR","p":3,"f":8,"v":0.04},{"o":"CHR","p":3,"f":9,"v":0.03},{"o":"CHR","p":3,"f":10,"v":0.03},
{"o":"CHR","p":4,"f":1,"v":0.23},{"o":"CHR","p":4,"f":2,"v":0.06},{"o":"CHR","p":4,"f":3,"v":0.06},{"o":"CHR","p":4,"f":4,"v":0.08},{"o":"CHR","p":4,"f":5,"v":0.10},{"o":"CHR","p":4,"f":6,"v":0.12},{"o":"CHR","p":4,"f":7,"v":0.15},{"o":"CHR","p":4,"f":8,"v":0.12},{"o":"CHR","p":4,"f":9,"v":0.08},{"o":"CHR","p":4,"f":10,"v":0.25},
{"o":"CHR","p":5,"f":1,"v":0.17},{"o":"CHR","p":5,"f":2,"v":0.05},{"o":"CHR","p":5,"f":3,"v":0.05},{"o":"CHR","p":5,"f":4,"v":0.06},{"o":"CHR","p":5,"f":5,"v":0.07},{"o":"CHR","p":5,"f":6,"v":0.08},{"o":"CHR","p":5,"f":7,"v":0.07},{"o":"CHR","p":5,"f":8,"v":0.11},{"o":"CHR","p":5,"f":9,"v":0.06},{"o":"CHR","p":5,"f":10,"v":0.07},
{"o":"CHR","p":6,"f":1,"v":0.40},{"o":"CHR","p":6,"f":2,"v":0.07},{"o":"CHR","p":6,"f":3,"v":0.065},{"o":"CHR","p":6,"f":4,"v":0.05},{"o":"CHR","p":6,"f":5,"v":0.05},{"o":"CHR","p":6,"f":6,"v":0.06},{"o":"CHR","p":6,"f":7,"v":0.04},{"o":"CHR","p":6,"f":8,"v":0.03},{"o":"CHR","p":6,"f":9,"v":0.05},{"o":"CHR","p":6,"f":10,"v":0.04},
{"o":"CHR","p":7,"f":1,"v":0.37},{"o":"CHR","p":7,"f":2,"v":0.11},{"o":"CHR","p":7,"f":3,"v":0.07},{"o":"CHR","p":7,"f":4,"v":0.07},{"o":"CHR","p":7,"f":5,"v":0.08},{"o":"CHR","p":7,"f":6,"v":0.07},{"o":"CHR","p":7,"f":7,"v":0.05},{"o":"CHR","p":7,"f":8,"v":0.06},{"o":"CHR","p":7,"f":9,"v":0.04},{"o":"CHR","p":7,"f":10,"v":0.06},
{"o":"CYP","p":1,"f":1,"v":0.10},{"o":"CYP","p":1,"f":2,"v":0.14},{"o":"CYP","p":1,"f":3,"v":0.12},{"o":"CYP","p":1,"f":4,"v":0.09},{"o":"CYP","p":1,"f":5,"v":0.05},{"o":"CYP","p":1,"f":6,"v":0.05},{"o":"CYP","p":1,"f":7,"v":0.05},{"o":"CYP","p":1,"f":8,"v":0.03},{"o":"CYP","p":1,"f":9,"v":0.04},{"o":"CYP","p":1,"f":10,"v":0.25},
{"o":"CYP","p":2,"f":1,"v":0.13},{"o":"CYP","p":2,"f":2,"v":0.18},{"o":"CYP","p":2,"f":3,"v":0.17},{"o":"CYP","p":2,"f":4,"v":0.13},{"o":"CYP","p":2,"f":5,"v":0.07},{"o":"CYP","p":2,"f":6,"v":0.06},{"o":"CYP","p":2,"f":7,"v":0.05},{"o":"CYP","p":2,"f":8,"v":0.04},{"o":"CYP","p":2,"f":9,"v":0.05},{"o":"CYP","p":2,"f":10,"v":0.48},
{"o":"CYP","p":3,"f":1,"v":0.08},{"o":"CYP","p":3,"f":2,"v":0.10},{"o":"CYP","p":3,"f":3,"v":0.09},{"o":"CYP","p":3,"f":4,"v":0.07},{"o":"CYP","p":3,"f":5,"v":0.04},{"o":"CYP","p":3,"f":6,"v":0.05},{"o":"CYP","p":3,"f":7,"v":0.04},{"o":"CYP","p":3,"f":8,"v":0.03},{"o":"CYP","p":3,"f":9,"v":0.03},{"o":"CYP","p":3,"f":10,"v":0.20},
{"o":"CYP","p":4,"f":1,"v":0.12},{"o":"CYP","p":4,"f":2,"v":0.16},{"o":"CYP","p":4,"f":3,"v":0.15},{"o":"CYP","p":4,"f":4,"v":0.11},{"o":"CYP","p":4,"f":5,"v":0.06},{"o":"CYP","p":4,"f":6,"v":0.07},{"o":"CYP","p":4,"f":7,"v":0.06},{"o":"CYP","p":4,"f":8,"v":0.05},{"o":"CYP","p":4,"f":9,"v":0.06},{"o":"CYP","p":4,"f":10,"v":0.40},
{"o":"CYP","p":5,"f":1,"v":0.09},{"o":"CYP","p":5,"f":2,"v":0.12},{"o":"CYP","p":5,"f":3,"v":0.11},{"o":"CYP","p":5,"f":4,"v":0.08},{"o":"CYP","p":5,"f":5,"v":0.05},{"o":"CYP","p":5,"f":6,"v":0.045},{"o":"CYP","p":5,"f":7,"v":0.04},{"o":"CYP","p":5,"f":8,"v":0.03},{"o":"CYP","p":5,"f":9,"v":0.04},{"o":"CYP","p":5,"f":10,"v":0.22},
{"o":"CYP","p":6,"f":1,"v":0.06},{"o":"CYP","p":6,"f":2,"v":0.13},{"o":"CYP","p":6,"f":3,"v":0.10},{"o":"CYP","p":6,"f":4,"v":0.06},{"o":"CYP","p":6,"f":5,"v":0.03},{"o":"CYP","p":6,"f":6,"v":0.04},{"o":"CYP","p":6,"f":7,"v":0.03},{"o":"CYP","p":6,"f":8,"v":0.02},{"o":"CYP","p":6,"f":9,"v":0.03},{"o":"CYP","p":6,"f":10,"v":0.19},
{"o":"CYP","p":7,"f":1,"v":0.11},{"o":"CYP","p":7,"f":2,"v":0.17},{"o":"CYP","p":7,"f":3,"v":0.18},{"o":"CYP","p":7,"f":4,"v":0.12},{"o":"CYP","p":7,"f":5,"v":0.08},{"o":"CYP","p":7,"f":6,"v":0.08},{"o":"CYP","p":7,"f":7,"v":0.07},{"o":"CYP","p":7,"f":8,"v":0.06},{"o":"CYP","p":7,"f":9,"v":0.07},{"o":"CYP","p":7,"f":10,"v":0.30},
{"o":"CYP","p":8,"f":1,"v":0.105},{"o":"CYP","p":8,"f":2,"v":0.11},{"o":"CYP","p":8,"f":3,"v":0.08},{"o":"CYP","p":8,"f":4,"v":0.09},{"o":"CYP","p":8,"f":5,"v":0.05},{"o":"CYP","p":8,"f":6,"v":0.05},{"o":"CYP","p":8,"f":7,"v":0.045},{"o":"CYP","p":8,"f":8,"v":0.035},{"o":"CYP","p":8,"f":9,"v":0.04},{"o":"CYP","p":8,"f":10,"v":0.26},
{"o":"CYP","p":9,"f":1,"v":0.09},{"o":"CYP","p":9,"f":2,"v":0.15},{"o":"CYP","p":9,"f":3,"v":0.13},{"o":"CYP","p":9,"f":4,"v":0.10},{"o":"CYP","p":9,"f":5,"v":0.06},{"o":"CYP","p":9,"f":6,"v":0.06},{"o":"CYP","p":9,"f":7,"v":0.05},{"o":"CYP","p":9,"f":8,"v":0.04},{"o":"CYP","p":9,"f":9,"v":0.045},{"o":"CYP","p":9,"f":10,"v":0.33}
],
"mean":[
{"o":"CYT","f":1,"m":0.097,"l":0.063,"h":0.131},{"o":"CYT","f":2,"m":0.097,"l":0.063,"h":0.131},{"o":"CYT","f":3,"m":0.105,"l":0.071,"h":0.139},{"o":"CYT","f":4,"m":0.085,"l":0.051,"h":0.119},{"o":"CYT","f":5,"m":0.077,"l":0.043,"h":0.111},{"o":"CYT","f":6,"m":0.093,"l":0.059,"h":0.127},{"o":"CYT","f":7,"m":0.066,"l":0.032,"h":0.100},{"o":"CYT","f":8,"m":0.052,"l":0.018,"h":0.086},{"o":"CYT","f":9,"m":0.075,"l":0.041,"h":0.109},{"o":"CYT","f":10,"m":0.262,"l":0.228,"h":0.296},
{"o":"ER","f":1,"m":0.117,"l":0.076,"h":0.158},{"o":"ER","f":2,"m":0.100,"l":0.059,"h":0.141},{"o":"ER","f":3,"m":0.110,"l":0.069,"h":0.151},{"o":"ER","f":4,"m":0.148,"l":0.107,"h":0.189},{"o":"ER","f":5,"m":0.151,"l":0.110,"h":0.192},{"o":"ER","f":6,"m":0.137,"l":0.096,"h":0.178},{"o":"ER","f":7,"m":0.110,"l":0.069,"h":0.151},{"o":"ER","f":8,"m":0.061,"l":0.020,"h":0.102},{"o":"ER","f":9,"m":0.039,"l":-0.002,"h":0.080},{"o":"ER","f":10,"m":0.044,"l":0.003,"h":0.085},
{"o":"GA","f":1,"m":0.156,"l":0.126,"h":0.186},{"o":"GA","f":2,"m":0.160,"l":0.130,"h":0.190},{"o":"GA","f":3,"m":0.132,"l":0.102,"h":0.162},{"o":"GA","f":4,"m":0.100,"l":0.070,"h":0.130},{"o":"GA","f":5,"m":0.085,"l":0.055,"h":0.115},{"o":"GA","f":6,"m":0.075,"l":0.045,"h":0.105},{"o":"GA","f":7,"m":0.079,"l":0.049,"h":0.109},{"o":"GA","f":8,"m":0.090,"l":0.060,"h":0.120},{"o":"GA","f":9,"m":0.071,"l":0.041,"h":0.101},{"o":"GA","f":10,"m":0.055,"l":0.025,"h":0.085},
{"o":"LYS","f":1,"m":0.075,"l":0.029,"h":0.121},{"o":"LYS","f":2,"m":0.132,"l":0.086,"h":0.178},{"o":"LYS","f":3,"m":0.207,"l":0.161,"h":0.253},{"o":"LYS","f":4,"m":0.230,"l":0.184,"h":0.276},{"o":"LYS","f":5,"m":0.104,"l":0.058,"h":0.150},{"o":"LYS","f":6,"m":0.069,"l":0.023,"h":0.115},{"o":"LYS","f":7,"m":0.057,"l":0.011,"h":0.103},{"o":"LYS","f":8,"m":0.048,"l":0.002,"h":0.094},{"o":"LYS","f":9,"m":0.043,"l":-0.003,"h":0.089},{"o":"LYS","f":10,"m":0.046,"l":0.000,"h":0.092},
{"o":"MIT","f":1,"m":0.274,"l":0.221,"h":0.327},{"o":"MIT","f":2,"m":0.198,"l":0.145,"h":0.251},{"o":"MIT","f":3,"m":0.146,"l":0.093,"h":0.199},{"o":"MIT","f":4,"m":0.093,"l":0.040,"h":0.146},{"o":"MIT","f":5,"m":0.058,"l":0.005,"h":0.111},{"o":"MIT","f":6,"m":0.052,"l":-0.001,"h":0.105},{"o":"MIT","f":7,"m":0.044,"l":-0.009,"h":0.097},{"o":"MIT","f":8,"m":0.050,"l":-0.003,"h":0.103},{"o":"MIT","f":9,"m":0.046,"l":-0.007,"h":0.099},{"o":"MIT","f":10,"m":0.048,"l":-0.005,"h":0.101},
{"o":"NUC","f":1,"m":0.078,"l":0.028,"h":0.128},{"o":"NUC","f":2,"m":0.060,"l":0.010,"h":0.110},{"o":"NUC","f":3,"m":0.062,"l":0.012,"h":0.112},{"o":"NUC","f":4,"m":0.075,"l":0.025,"h":0.125},{"o":"NUC","f":5,"m":0.093,"l":0.043,"h":0.143},{"o":"NUC","f":6,"m":0.098,"l":0.048,"h":0.148},{"o":"NUC","f":7,"m":0.125,"l":0.075,"h":0.175},{"o":"NUC","f":8,"m":0.175,"l":0.125,"h":0.225},{"o":"NUC","f":9,"m":0.175,"l":0.125,"h":0.225},{"o":"NUC","f":10,"m":0.056,"l":0.006,"h":0.106},
{"o":"PER","f":1,"m":0.087,"l":0.037,"h":0.137},{"o":"PER","f":2,"m":0.078,"l":0.028,"h":0.128},{"o":"PER","f":3,"m":0.119,"l":0.069,"h":0.169},{"o":"PER","f":4,"m":0.167,"l":0.117,"h":0.217},{"o":"PER","f":5,"m":0.167,"l":0.117,"h":0.217},{"o":"PER","f":6,"m":0.131,"l":0.081,"h":0.181},{"o":"PER","f":7,"m":0.083,"l":0.033,"h":0.133},{"o":"PER","f":8,"m":0.045,"l":-0.005,"h":0.095},{"o":"PER","f":9,"m":0.052,"l":0.002,"h":0.102},{"o":"PER","f":10,"m":0.052,"l":0.002,"h":0.102},
{"o":"PM","f":1,"m":0.132,"l":0.098,"h":0.166},{"o":"PM","f":2,"m":0.173,"l":0.139,"h":0.207},{"o":"PM","f":3,"m":0.175,"l":0.141,"h":0.209},{"o":"PM","f":4,"m":0.130,"l":0.096,"h":0.164},{"o":"PM","f":5,"m":0.094,"l":0.060,"h":0.128},{"o":"PM","f":6,"m":0.075,"l":0.041,"h":0.109},{"o":"PM","f":7,"m":0.072,"l":0.038,"h":0.106},{"o":"PM","f":8,"m":0.058,"l":0.024,"h":0.092},{"o":"PM","f":9,"m":0.046,"l":0.012,"h":0.080},{"o":"PM","f":10,"m":0.042,"l":0.008,"h":0.076},
{"o":"PRO","f":1,"m":0.067,"l":0.034,"h":0.100},{"o":"PRO","f":2,"m":0.067,"l":0.034,"h":0.100},{"o":"PRO","f":3,"m":0.068,"l":0.035,"h":0.101},{"o":"PRO","f":4,"m":0.063,"l":0.030,"h":0.096},{"o":"PRO","f":5,"m":0.062,"l":0.029,"h":0.095},{"o":"PRO","f":6,"m":0.064,"l":0.031,"h":0.097},{"o":"PRO","f":7,"m":0.064,"l":0.031,"h":0.097},{"o":"PRO","f":8,"m":0.110,"l":0.077,"h":0.143},{"o":"PRO","f":9,"m":0.339,"l":0.306,"h":0.372},{"o":"PRO","f":10,"m":0.118,"l":0.085,"h":0.151},
{"o":"RIB","f":1,"m":0.056,"l":0.033,"h":0.079},{"o":"RIB","f":2,"m":0.059,"l":0.036,"h":0.082},{"o":"RIB","f":3,"m":0.061,"l":0.038,"h":0.084},{"o":"RIB","f":4,"m":0.087,"l":0.064,"h":0.110},{"o":"RIB","f":5,"m":0.114,"l":0.091,"h":0.137},{"o":"RIB","f":6,"m":0.120,"l":0.097,"h":0.143},{"o":"RIB","f":7,"m":0.150,"l":0.127,"h":0.173},{"o":"RIB","f":8,"m":0.182,"l":0.159,"h":0.205},{"o":"RIB","f":9,"m":0.139,"l":0.116,"h":0.162},{"o":"RIB","f":10,"m":0.028,"l":0.005,"h":0.051},
{"o":"CHR","f":1,"m":0.373,"l":0.265,"h":0.481},{"o":"CHR","f":2,"m":0.088,"l":-0.020,"h":0.196},{"o":"CHR","f":3,"m":0.066,"l":-0.042,"h":0.174},{"o":"CHR","f":4,"m":0.064,"l":-0.044,"h":0.172},{"o":"CHR","f":5,"m":0.070,"l":-0.038,"h":0.178},{"o":"CHR","f":6,"m":0.075,"l":-0.033,"h":0.183},{"o":"CHR","f":7,"m":0.058,"l":-0.050,"h":0.166},{"o":"CHR","f":8,"m":0.061,"l":-0.047,"h":0.169},{"o":"CHR","f":9,"m":0.050,"l":-0.058,"h":0.158},{"o":"CHR","f":10,"m":0.066,"l":-0.042,"h":0.174},
{"o":"CYP","f":1,"m":0.102,"l":0.017,"h":0.187},{"o":"CYP","f":2,"m":0.140,"l":0.055,"h":0.225},{"o":"CYP","f":3,"m":0.123,"l":0.038,"h":0.208},{"o":"CYP","f":4,"m":0.095,"l":0.010,"h":0.180},{"o":"CYP","f":5,"m":0.053,"l":-0.032,"h":0.138},{"o":"CYP","f":6,"m":0.056,"l":-0.029,"h":0.141},{"o":"CYP","f":7,"m":0.049,"l":-0.036,"h":0.134},{"o":"CYP","f":8,"m":0.035,"l":-0.050,"h":0.120},{"o":"CYP","f":9,"m":0.043,"l":-0.042,"h":0.128},{"o":"CYP","f":10,"m":0.279,"l":0.194,"h":0.364}
]
},
"vconcat":[{
"title":{"text":"Normal","orient":"left","anchor":"middle","fontSize":28,"fontWeight":"normal","font":"Liberation Sans","color":"black","offset":98},
"columns":6,"bounds":"flush","spacing":{"row":66,"column":42.8},
"concat":[
{"title":{"text":"CYTOSOL","offset":7},"width":132,"height":144,"encoding":{"x":{"field":"f","type":"quantitative","scale":{"domain":[0.64,10.36],"nice":false,"zero":false},"axis":{"values":[1,2,3,4,5,6,7,8,9,10],"tickCount":20,"format":"d","title":null}}},
"layer":[
{"data":{"name":"prof"},"transform":[{"filter":"datum.o=='CYT'"}],"mark":{"type":"line","color":"#E41A1C","opacity":0.6,"strokeWidth":1.5,"strokeDash":[3,1.5]},"encoding":{"y":{"field":"v","type":"quantitative","scale":{"domain":[-0.0311,0.404],"nice":false,"zero":false},"axis":{"values":[0,0.1,0.2,0.3,0.4],"tickCount":20,"format":".1f","labelOverlap":false,"title":"Normalised Abundance"}},"detail":{"field":"p","type":"nominal"}}},
{"data":{"name":"prof"},"transform":[{"filter":"datum.o=='CYT'"}],"mark":{"type":"circle","color":"#E41A1C","opacity":0.6,"size":12},"encoding":{"y":{"field":"v","type":"quantitative"}}},
{"data":{"name":"mean"},"transform":[{"filter":"datum.o=='CYT'"}],"mark":{"type":"rule","color":"black","strokeWidth":1.9},"encoding":{"y":{"field":"l","type":"quantitative"},"y2":{"field":"h"}}},
{"data":{"name":"mean"},"transform":[{"filter":"datum.o=='CYT'"}],"mark":{"type":"tick","orient":"horizontal","color":"black","size":12,"thickness":1.9},"encoding":{"y":{"field":"l","type":"quantitative"}}},
{"data":{"name":"mean"},"transform":[{"filter":"datum.o=='CYT'"}],"mark":{"type":"tick","orient":"horizontal","color":"black","size":12,"thickness":1.9},"encoding":{"y":{"field":"h","type":"quantitative"}}},
{"data":{"name":"mean"},"transform":[{"filter":"datum.o=='CYT'"}],"mark":{"type":"line","color":"black","strokeWidth":3.8},"encoding":{"y":{"field":"m","type":"quantitative"}}},
{"data":{"name":"mean"},"transform":[{"filter":"datum.o=='CYT'"}],"mark":{"type":"circle","color":"black","opacity":1,"size":50},"encoding":{"y":{"field":"m","type":"quantitative"}}}
]},
{"title":"ER","width":132,"height":144,"encoding":{"x":{"field":"f","type":"quantitative","scale":{"domain":[0.64,10.36],"nice":false,"zero":false},"axis":{"values":[1,2,3,4,5,6,7,8,9,10],"tickCount":20,"format":"d","title":null}}},
"layer":[
{"data":{"name":"prof"},"transform":[{"filter":"datum.o=='ER'"}],"mark":{"type":"line","color":"#377EB8","opacity":0.65,"strokeWidth":1.6,"strokeDash":[3,1.5]},"encoding":{"y":{"field":"v","type":"quantitative","scale":{"domain":[-0.0429,0.2612],"nice":false,"zero":false},"axis":{"values":[0,0.05,0.1,0.15,0.2,0.25],"tickCount":20,"format":".2f","labelOverlap":false,"title":null}},"detail":{"field":"p","type":"nominal"}}},
{"data":{"name":"prof"},"transform":[{"filter":"datum.o=='ER'"}],"mark":{"type":"circle","color":"#377EB8","opacity":0.65,"size":12},"encoding":{"y":{"field":"v","type":"quantitative"}}},
{"data":{"name":"mean"},"transform":[{"filter":"datum.o=='ER'"}],"mark":{"type":"rule","color":"black","strokeWidth":1.9},"encoding":{"y":{"field":"l","type":"quantitative"},"y2":{"field":"h"}}},
{"data":{"name":"mean"},"transform":[{"filter":"datum.o=='ER'"}],"mark":{"type":"tick","orient":"horizontal","color":"black","size":12,"thickness":1.9},"encoding":{"y":{"field":"l","type":"quantitative"}}},
{"data":{"name":"mean"},"transform":[{"filter":"datum.o=='ER'"}],"mark":{"type":"tick","orient":"horizontal","color":"black","size":12,"thickness":1.9},"encoding":{"y":{"field":"h","type":"quantitative"}}},
{"data":{"name":"mean"},"transform":[{"filter":"datum.o=='ER'"}],"mark":{"type":"line","color":"black","strokeWidth":3.8},"encoding":{"y":{"field":"m","type":"quantitative"}}},
{"data":{"name":"mean"},"transform":[{"filter":"datum.o=='ER'"}],"mark":{"type":"circle","color":"black","opacity":1,"size":50},"encoding":{"y":{"field":"m","type":"quantitative"}}}
]},
{"title":"GA","width":132,"height":144,"encoding":{"x":{"field":"f","type":"quantitative","scale":{"domain":[0.64,10.36],"nice":false,"zero":false},"axis":{"values":[1,2,3,4,5,6,7,8,9,10],"tickCount":20,"format":"d","title":null}}},
"layer":[
{"data":{"name":"prof"},"transform":[{"filter":"datum.o=='GA'"}],"mark":{"type":"line","color":"#4DAF4A","opacity":0.55,"strokeWidth":1.3,"strokeDash":[3,1.5]},"encoding":{"y":{"field":"v","type":"quantitative","scale":{"domain":[-0.0264,0.2393],"nice":false,"zero":false},"axis":{"values":[0,0.05,0.1,0.15,0.2],"tickCount":20,"format":".2f","labelOverlap":false,"title":null}},"detail":{"field":"p","type":"nominal"}}},
{"data":{"name":"prof"},"transform":[{"filter":"datum.o=='GA'"}],"mark":{"type":"circle","color":"#4DAF4A","opacity":0.55,"size":12},"encoding":{"y":{"field":"v","type":"quantitative"}}},
{"data":{"name":"mean"},"transform":[{"filter":"datum.o=='GA'"}],"mark":{"type":"rule","color":"black","strokeWidth":1.9},"encoding":{"y":{"field":"l","type":"quantitative"},"y2":{"field":"h"}}},
{"data":{"name":"mean"},"transform":[{"filter":"datum.o=='GA'"}],"mark":{"type":"tick","orient":"horizontal","color":"black","size":12,"thickness":1.9},"encoding":{"y":{"field":"l","type":"quantitative"}}},
{"data":{"name":"mean"},"transform":[{"filter":"datum.o=='GA'"}],"mark":{"type":"tick","orient":"horizontal","color":"black","size":12,"thickness":1.9},"encoding":{"y":{"field":"h","type":"quantitative"}}},
{"data":{"name":"mean"},"transform":[{"filter":"datum.o=='GA'"}],"mark":{"type":"line","color":"black","strokeWidth":3.8},"encoding":{"y":{"field":"m","type":"quantitative"}}},
{"data":{"name":"mean"},"transform":[{"filter":"datum.o=='GA'"}],"mark":{"type":"circle","color":"black","opacity":1,"size":50},"encoding":{"y":{"field":"m","type":"quantitative"}}}
]},
{"title":"LYSOSOME","width":132,"height":144,"encoding":{"x":{"field":"f","type":"quantitative","scale":{"domain":[0.64,10.36],"nice":false,"zero":false},"axis":{"values":[1,2,3,4,5,6,7,8,9,10],"tickCount":20,"format":"d","title":null}}},
"layer":[
{"data":{"name":"prof"},"transform":[{"filter":"datum.o=='LYS'"}],"mark":{"type":"line","color":"#FF7F00","opacity":0.55,"strokeWidth":1.4,"strokeDash":[3,1.5]},"encoding":{"y":{"field":"v","type":"quantitative","scale":{"domain":[-0.0454,0.3393],"nice":false,"zero":false},"axis":{"values":[0,0.05,0.1,0.15,0.2,0.25,0.3],"tickCount":20,"format":".2f","labelOverlap":false,"title":null}},"detail":{"field":"p","type":"nominal"}}},
{"data":{"name":"prof"},"transform":[{"filter":"datum.o=='LYS'"}],"mark":{"type":"circle","color":"#FF7F00","opacity":0.55,"size":12},"encoding":{"y":{"field":"v","type":"quantitative"}}},
{"data":{"name":"mean"},"transform":[{"filter":"datum.o=='LYS'"}],"mark":{"type":"rule","color":"black","strokeWidth":1.9},"encoding":{"y":{"field":"l","type":"quantitative"},"y2":{"field":"h"}}},
{"data":{"name":"mean"},"transform":[{"filter":"datum.o=='LYS'"}],"mark":{"type":"tick","orient":"horizontal","color":"black","size":12,"thickness":1.9},"encoding":{"y":{"field":"l","type":"quantitative"}}},
{"data":{"name":"mean"},"transform":[{"filter":"datum.o=='LYS'"}],"mark":{"type":"tick","orient":"horizontal","color":"black","size":12,"thickness":1.9},"encoding":{"y":{"field":"h","type":"quantitative"}}},
{"data":{"name":"mean"},"transform":[{"filter":"datum.o=='LYS'"}],"mark":{"type":"line","color":"black","strokeWidth":3.8},"encoding":{"y":{"field":"m","type":"quantitative"}}},
{"data":{"name":"mean"},"transform":[{"filter":"datum.o=='LYS'"}],"mark":{"type":"circle","color":"black","opacity":1,"size":50},"encoding":{"y":{"field":"m","type":"quantitative"}}}
]},
{"title":"MITOCHONDRION","width":132,"height":144,"encoding":{"x":{"field":"f","type":"quantitative","scale":{"domain":[0.64,10.36],"nice":false,"zero":false},"axis":{"values":[1,2,3,4,5,6,7,8,9,10],"tickCount":20,"format":"d","title":null}}},
"layer":[
{"data":{"name":"prof"},"transform":[{"filter":"datum.o=='MIT'"}],"mark":{"type":"line","color":"#F5CE00","opacity":0.75,"strokeWidth":1.6,"strokeDash":[3,1.5]},"encoding":{"y":{"field":"v","type":"quantitative","scale":{"domain":[-0.0697,0.44],"nice":false,"zero":false},"axis":{"values":[0,0.1,0.2,0.3,0.4],"tickCount":20,"format":".1f","labelOverlap":false,"title":null}},"detail":{"field":"p","type":"nominal"}}},
{"data":{"name":"prof"},"transform":[{"filter":"datum.o=='MIT'"}],"mark":{"type":"circle","color":"#F5CE00","opacity":0.75,"size":12},"encoding":{"y":{"field":"v","type":"quantitative"}}},
{"data":{"name":"mean"},"transform":[{"filter":"datum.o=='MIT'"}],"mark":{"type":"rule","color":"black","strokeWidth":1.9},"encoding":{"y":{"field":"l","type":"quantitative"},"y2":{"field":"h"}}},
{"data":{"name":"mean"},"transform":[{"filter":"datum.o=='MIT'"}],"mark":{"type":"tick","orient":"horizontal","color":"black","size":12,"thickness":1.9},"encoding":{"y":{"field":"l","type":"quantitative"}}},
{"data":{"name":"mean"},"transform":[{"filter":"datum.o=='MIT'"}],"mark":{"type":"tick","orient":"horizontal","color":"black","size":12,"thickness":1.9},"encoding":{"y":{"field":"h","type":"quantitative"}}},
{"data":{"name":"mean"},"transform":[{"filter":"datum.o=='MIT'"}],"mark":{"type":"line","color":"black","strokeWidth":3.8},"encoding":{"y":{"field":"m","type":"quantitative"}}},
{"data":{"name":"mean"},"transform":[{"filter":"datum.o=='MIT'"}],"mark":{"type":"circle","color":"black","opacity":1,"size":50},"encoding":{"y":{"field":"m","type":"quantitative"}}}
]},
{"title":"NUCLEUS","width":132,"height":144,"encoding":{"x":{"field":"f","type":"quantitative","scale":{"domain":[0.64,10.36],"nice":false,"zero":false},"axis":{"values":[1,2,3,4,5,6,7,8,9,10],"tickCount":20,"format":"d","title":null}}},
"layer":[
{"data":{"name":"prof"},"transform":[{"filter":"datum.o=='NUC'"}],"mark":{"type":"line","color":"#2BB8B8","opacity":0.65,"strokeWidth":1.6,"strokeDash":[3,1.5]},"encoding":{"y":{"field":"v","type":"quantitative","scale":{"domain":[-0.0458,0.3266],"nice":false,"zero":false},"axis":{"values":[0,0.05,0.1,0.15,0.2,0.25,0.3],"tickCount":20,"format":".2f","labelOverlap":false,"title":null}},"detail":{"field":"p","type":"nominal"}}},
{"data":{"name":"prof"},"transform":[{"filter":"datum.o=='NUC'"}],"mark":{"type":"circle","color":"#2BB8B8","opacity":0.65,"size":12},"encoding":{"y":{"field":"v","type":"quantitative"}}},
{"data":{"name":"mean"},"transform":[{"filter":"datum.o=='NUC'"}],"mark":{"type":"rule","color":"black","strokeWidth":1.9},"encoding":{"y":{"field":"l","type":"quantitative"},"y2":{"field":"h"}}},
{"data":{"name":"mean"},"transform":[{"filter":"datum.o=='NUC'"}],"mark":{"type":"tick","orient":"horizontal","color":"black","size":12,"thickness":1.9},"encoding":{"y":{"field":"l","type":"quantitative"}}},
{"data":{"name":"mean"},"transform":[{"filter":"datum.o=='NUC'"}],"mark":{"type":"tick","orient":"horizontal","color":"black","size":12,"thickness":1.9},"encoding":{"y":{"field":"h","type":"quantitative"}}},
{"data":{"name":"mean"},"transform":[{"filter":"datum.o=='NUC'"}],"mark":{"type":"line","color":"black","strokeWidth":3.8},"encoding":{"y":{"field":"m","type":"quantitative"}}},
{"data":{"name":"mean"},"transform":[{"filter":"datum.o=='NUC'"}],"mark":{"type":"circle","color":"black","opacity":1,"size":50},"encoding":{"y":{"field":"m","type":"quantitative"}}}
]},
{"title":"PEROXISOME","width":132,"height":144,"encoding":{"x":{"field":"f","type":"quantitative","scale":{"domain":[0.64,10.36],"nice":false,"zero":false},"axis":{"values":[1,2,3,4,5,6,7,8,9,10],"tickCount":20,"format":"d","title":"Fraction"}}},
"layer":[
{"data":{"name":"prof"},"transform":[{"filter":"datum.o=='PER'"}],"mark":{"type":"line","color":"#B87850","opacity":0.6,"strokeWidth":1.3,"strokeDash":[3,1.5]},"encoding":{"y":{"field":"v","type":"quantitative","scale":{"domain":[-0.0378,0.2597],"nice":false,"zero":false},"axis":{"values":[0,0.05,0.1,0.15,0.2,0.25],"tickCount":20,"format":".2f","labelOverlap":false,"title":"Normalised Abundance"}},"detail":{"field":"p","type":"nominal"}}},
{"data":{"name":"prof"},"transform":[{"filter":"datum.o=='PER'"}],"mark":{"type":"circle","color":"#B87850","opacity":0.6,"size":12},"encoding":{"y":{"field":"v","type":"quantitative"}}},
{"data":{"name":"mean"},"transform":[{"filter":"datum.o=='PER'"}],"mark":{"type":"rule","color":"black","strokeWidth":1.9},"encoding":{"y":{"field":"l","type":"quantitative"},"y2":{"field":"h"}}},
{"data":{"name":"mean"},"transform":[{"filter":"datum.o=='PER'"}],"mark":{"type":"tick","orient":"horizontal","color":"black","size":12,"thickness":1.9},"encoding":{"y":{"field":"l","type":"quantitative"}}},
{"data":{"name":"mean"},"transform":[{"filter":"datum.o=='PER'"}],"mark":{"type":"tick","orient":"horizontal","color":"black","size":12,"thickness":1.9},"encoding":{"y":{"field":"h","type":"quantitative"}}},
{"data":{"name":"mean"},"transform":[{"filter":"datum.o=='PER'"}],"mark":{"type":"line","color":"black","strokeWidth":3.8},"encoding":{"y":{"field":"m","type":"quantitative"}}},
{"data":{"name":"mean"},"transform":[{"filter":"datum.o=='PER'"}],"mark":{"type":"circle","color":"black","opacity":1,"size":50},"encoding":{"y":{"field":"m","type":"quantitative"}}}
]},
{"title":"PM","width":132,"height":144,"encoding":{"x":{"field":"f","type":"quantitative","scale":{"domain":[0.64,10.36],"nice":false,"zero":false},"axis":{"values":[1,2,3,4,5,6,7,8,9,10],"tickCount":20,"format":"d","title":"Fraction"}}},
"layer":[
{"data":{"name":"prof"},"transform":[{"filter":"datum.o=='PM'"}],"mark":{"type":"line","color":"#E87BB0","opacity":0.6,"strokeWidth":1.3,"strokeDash":[3,1.5]},"encoding":{"y":{"field":"v","type":"quantitative","scale":{"domain":[-0.0512,0.2884],"nice":false,"zero":false},"axis":{"values":[0,0.05,0.1,0.15,0.2,0.25],"tickCount":20,"format":".2f","labelOverlap":false,"title":null}},"detail":{"field":"p","type":"nominal"}}},
{"data":{"name":"prof"},"transform":[{"filter":"datum.o=='PM'"}],"mark":{"type":"circle","color":"#E87BB0","opacity":0.6,"size":12},"encoding":{"y":{"field":"v","type":"quantitative"}}},
{"data":{"name":"mean"},"transform":[{"filter":"datum.o=='PM'"}],"mark":{"type":"rule","color":"black","strokeWidth":1.9},"encoding":{"y":{"field":"l","type":"quantitative"},"y2":{"field":"h"}}},
{"data":{"name":"mean"},"transform":[{"filter":"datum.o=='PM'"}],"mark":{"type":"tick","orient":"horizontal","color":"black","size":12,"thickness":1.9},"encoding":{"y":{"field":"l","type":"quantitative"}}},
{"data":{"name":"mean"},"transform":[{"filter":"datum.o=='PM'"}],"mark":{"type":"tick","orient":"horizontal","color":"black","size":12,"thickness":1.9},"encoding":{"y":{"field":"h","type":"quantitative"}}},
{"data":{"name":"mean"},"transform":[{"filter":"datum.o=='PM'"}],"mark":{"type":"line","color":"black","strokeWidth":3.8},"encoding":{"y":{"field":"m","type":"quantitative"}}},
{"data":{"name":"mean"},"transform":[{"filter":"datum.o=='PM'"}],"mark":{"type":"circle","color":"black","opacity":1,"size":50},"encoding":{"y":{"field":"m","type":"quantitative"}}}
]},
{"title":"PROTEASOME","width":132,"height":144,"encoding":{"x":{"field":"f","type":"quantitative","scale":{"domain":[0.64,10.36],"nice":false,"zero":false},"axis":{"values":[1,2,3,4,5,6,7,8,9,10],"tickCount":20,"format":"d","title":"Fraction"}}},
"layer":[
{"data":{"name":"prof"},"transform":[{"filter":"datum.o=='PRO'"}],"mark":{"type":"line","color":"#A060C0","opacity":0.6,"strokeWidth":1.4,"strokeDash":[3,1.5]},"encoding":{"y":{"field":"v","type":"quantitative","scale":{"domain":[-0.0338,0.4898],"nice":false,"zero":false},"axis":{"values":[0,0.1,0.2,0.3,0.4],"tickCount":20,"format":".1f","labelOverlap":false,"title":null}},"detail":{"field":"p","type":"nominal"}}},
{"data":{"name":"prof"},"transform":[{"filter":"datum.o=='PRO'"}],"mark":{"type":"circle","color":"#A060C0","opacity":0.6,"size":12},"encoding":{"y":{"field":"v","type":"quantitative"}}},
{"data":{"name":"mean"},"transform":[{"filter":"datum.o=='PRO'"}],"mark":{"type":"rule","color":"black","strokeWidth":1.9},"encoding":{"y":{"field":"l","type":"quantitative"},"y2":{"field":"h"}}},
{"data":{"name":"mean"},"transform":[{"filter":"datum.o=='PRO'"}],"mark":{"type":"tick","orient":"horizontal","color":"black","size":12,"thickness":1.9},"encoding":{"y":{"field":"l","type":"quantitative"}}},
{"data":{"name":"mean"},"transform":[{"filter":"datum.o=='PRO'"}],"mark":{"type":"tick","orient":"horizontal","color":"black","size":12,"thickness":1.9},"encoding":{"y":{"field":"h","type":"quantitative"}}},
{"data":{"name":"mean"},"transform":[{"filter":"datum.o=='PRO'"}],"mark":{"type":"line","color":"black","strokeWidth":3.8},"encoding":{"y":{"field":"m","type":"quantitative"}}},
{"data":{"name":"mean"},"transform":[{"filter":"datum.o=='PRO'"}],"mark":{"type":"circle","color":"black","opacity":1,"size":50},"encoding":{"y":{"field":"m","type":"quantitative"}}}
]},
{"title":"RIBOSOME","width":132,"height":144,"encoding":{"x":{"field":"f","type":"quantitative","scale":{"domain":[0.64,10.36],"nice":false,"zero":false},"axis":{"values":[1,2,3,4,5,6,7,8,9,10],"tickCount":20,"format":"d","title":"Fraction"}}},
"layer":[
{"data":{"name":"prof"},"transform":[{"filter":"datum.o=='RIB'"}],"mark":{"type":"line","color":"#8CC63F","opacity":0.75,"strokeWidth":1.6,"strokeDash":[3,1.5]},"encoding":{"y":{"field":"v","type":"quantitative","scale":{"domain":[-0.0549,0.2844],"nice":false,"zero":false},"axis":{"values":[-0.05,0,0.05,0.1,0.15,0.2,0.25],"tickCount":20,"format":".2f","labelOverlap":false,"title":null}},"detail":{"field":"p","type":"nominal"}}},
{"data":{"name":"prof"},"transform":[{"filter":"datum.o=='RIB'"}],"mark":{"type":"circle","color":"#8CC63F","opacity":0.75,"size":12},"encoding":{"y":{"field":"v","type":"quantitative"}}},
{"data":{"name":"mean"},"transform":[{"filter":"datum.o=='RIB'"}],"mark":{"type":"rule","color":"black","strokeWidth":1.9},"encoding":{"y":{"field":"l","type":"quantitative"},"y2":{"field":"h"}}},
{"data":{"name":"mean"},"transform":[{"filter":"datum.o=='RIB'"}],"mark":{"type":"tick","orient":"horizontal","color":"black","size":12,"thickness":1.9},"encoding":{"y":{"field":"l","type":"quantitative"}}},
{"data":{"name":"mean"},"transform":[{"filter":"datum.o=='RIB'"}],"mark":{"type":"tick","orient":"horizontal","color":"black","size":12,"thickness":1.9},"encoding":{"y":{"field":"h","type":"quantitative"}}},
{"data":{"name":"mean"},"transform":[{"filter":"datum.o=='RIB'"}],"mark":{"type":"line","color":"black","strokeWidth":3.8},"encoding":{"y":{"field":"m","type":"quantitative"}}},
{"data":{"name":"mean"},"transform":[{"filter":"datum.o=='RIB'"}],"mark":{"type":"circle","color":"black","opacity":1,"size":50},"encoding":{"y":{"field":"m","type":"quantitative"}}}
]},
{"title":"CHROMATIN","width":132,"height":144,"encoding":{"x":{"field":"f","type":"quantitative","scale":{"domain":[0.64,10.36],"nice":false,"zero":false},"axis":{"values":[1,2,3,4,5,6,7,8,9,10],"tickCount":20,"format":"d","title":"Fraction"}}},
"layer":[
{"data":{"name":"prof"},"transform":[{"filter":"datum.o=='CHR'"}],"mark":{"type":"line","color":"#A9BEDD","opacity":0.75,"strokeWidth":1.3,"strokeDash":[3,1.5]},"encoding":{"y":{"field":"v","type":"quantitative","scale":{"domain":[-0.0627,0.5689],"nice":false,"zero":false},"axis":{"values":[0,0.1,0.2,0.3,0.4,0.5],"tickCount":20,"format":".1f","labelOverlap":false,"title":null}},"detail":{"field":"p","type":"nominal"}}},
{"data":{"name":"prof"},"transform":[{"filter":"datum.o=='CHR'"}],"mark":{"type":"circle","color":"#A9BEDD","opacity":0.75,"size":12},"encoding":{"y":{"field":"v","type":"quantitative"}}},
{"data":{"name":"mean"},"transform":[{"filter":"datum.o=='CHR'"}],"mark":{"type":"rule","color":"black","strokeWidth":1.9},"encoding":{"y":{"field":"l","type":"quantitative"},"y2":{"field":"h"}}},
{"data":{"name":"mean"},"transform":[{"filter":"datum.o=='CHR'"}],"mark":{"type":"tick","orient":"horizontal","color":"black","size":12,"thickness":1.9},"encoding":{"y":{"field":"l","type":"quantitative"}}},
{"data":{"name":"mean"},"transform":[{"filter":"datum.o=='CHR'"}],"mark":{"type":"tick","orient":"horizontal","color":"black","size":12,"thickness":1.9},"encoding":{"y":{"field":"h","type":"quantitative"}}},
{"data":{"name":"mean"},"transform":[{"filter":"datum.o=='CHR'"}],"mark":{"type":"line","color":"black","strokeWidth":3.8},"encoding":{"y":{"field":"m","type":"quantitative"}}},
{"data":{"name":"mean"},"transform":[{"filter":"datum.o=='CHR'"}],"mark":{"type":"circle","color":"black","opacity":1,"size":50},"encoding":{"y":{"field":"m","type":"quantitative"}}}
]},
{"title":"CYTOPLASM","width":132,"height":144,"encoding":{"x":{"field":"f","type":"quantitative","scale":{"domain":[0.64,10.36],"nice":false,"zero":false},"axis":{"values":[1,2,3,4,5,6,7,8,9,10],"tickCount":20,"format":"d","title":"Fraction"}}},
"layer":[
{"data":{"name":"prof"},"transform":[{"filter":"datum.o=='CYP'"}],"mark":{"type":"line","color":"#5F5FA8","opacity":0.6,"strokeWidth":1.3,"strokeDash":[3,1.5]},"encoding":{"y":{"field":"v","type":"quantitative","scale":{"domain":[-0.0628,0.5404],"nice":false,"zero":false},"axis":{"values":[0,0.1,0.2,0.3,0.4,0.5],"tickCount":20,"format":".1f","labelOverlap":false,"title":null}},"detail":{"field":"p","type":"nominal"}}},
{"data":{"name":"prof"},"transform":[{"filter":"datum.o=='CYP'"}],"mark":{"type":"circle","color":"#5F5FA8","opacity":0.6,"size":12},"encoding":{"y":{"field":"v","type":"quantitative"}}},
{"data":{"name":"mean"},"transform":[{"filter":"datum.o=='CYP'"}],"mark":{"type":"rule","color":"black","strokeWidth":1.9},"encoding":{"y":{"field":"l","type":"quantitative"},"y2":{"field":"h"}}},
{"data":{"name":"mean"},"transform":[{"filter":"datum.o=='CYP'"}],"mark":{"type":"tick","orient":"horizontal","color":"black","size":12,"thickness":1.9},"encoding":{"y":{"field":"l","type":"quantitative"}}},
{"data":{"name":"mean"},"transform":[{"filter":"datum.o=='CYP'"}],"mark":{"type":"tick","orient":"horizontal","color":"black","size":12,"thickness":1.9},"encoding":{"y":{"field":"h","type":"quantitative"}}},
{"data":{"name":"mean"},"transform":[{"filter":"datum.o=='CYP'"}],"mark":{"type":"line","color":"black","strokeWidth":3.8},"encoding":{"y":{"field":"m","type":"quantitative"}}},
{"data":{"name":"mean"},"transform":[{"filter":"datum.o=='CYP'"}],"mark":{"type":"circle","color":"black","opacity":1,"size":50},"encoding":{"y":{"field":"m","type":"quantitative"}}}
]}
]
}]
}
